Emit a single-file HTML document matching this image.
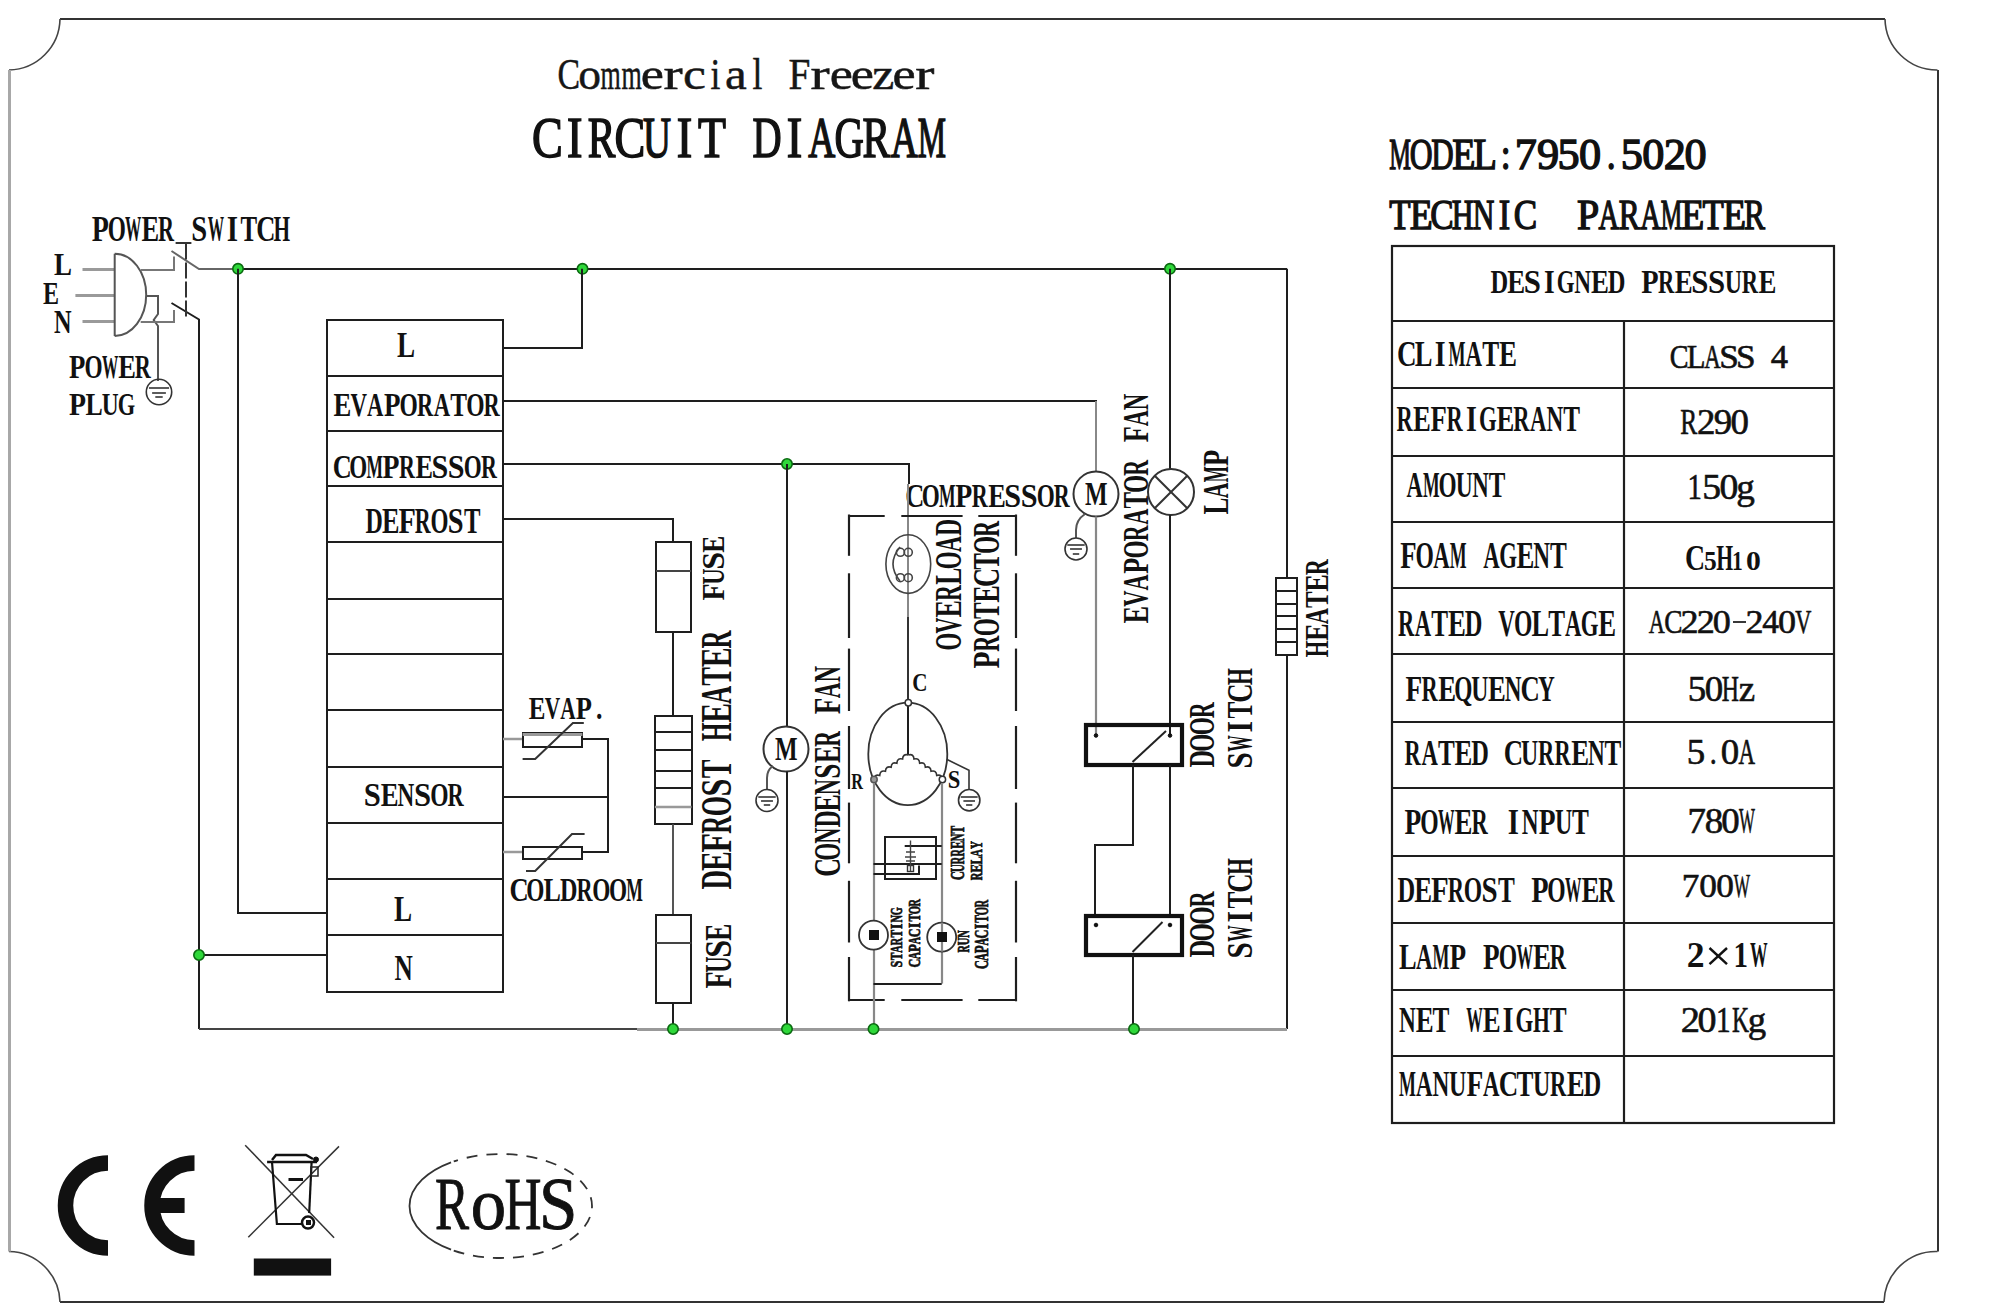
<!DOCTYPE html>
<html><head><meta charset="utf-8"><style>
html,body{margin:0;padding:0;background:#fff;}
body{width:2000px;height:1313px;overflow:hidden;}
svg{display:block;}
text{font-family:"Liberation Serif",serif;}
</style></head><body>
<svg width="2000" height="1313" viewBox="0 0 2000 1313">
<rect x="0" y="0" width="2000" height="1313" fill="#fff"/>
<line x1="60.00" y1="19.00" x2="1885.00" y2="19.00" stroke="#333" stroke-width="2.00" />
<line x1="60.00" y1="1302.00" x2="1884.00" y2="1302.00" stroke="#333" stroke-width="2.00" />
<line x1="1938.00" y1="70.00" x2="1938.00" y2="1251.50" stroke="#333" stroke-width="2.00" />
<path d="M1885,19 A52,52 0 0 0 1937.5,70 M1937.5,1251.5 A52,52 0 0 0 1884,1302 M60,1302 A52,52 0 0 0 9,1251.5 M9,70 A52,52 0 0 0 60,19" stroke="#444" stroke-width="1.60" fill="none" />
<line x1="9.50" y1="70.00" x2="9.50" y2="1251.50" stroke="#a8a8a8" stroke-width="3.00" />
<text transform="translate(557.61 89.00) scale(0.7634 1)" font-size="44.29" font-weight="normal" fill="#161616" stroke="#161616" stroke-width="0.50" >C</text>
<text transform="translate(578.24 89.00) scale(1.0281 1)" font-size="44.29" font-weight="normal" fill="#161616" stroke="#161616" stroke-width="0.50" >o</text>
<text transform="translate(600.41 89.00) scale(0.5879 1)" font-size="44.29" font-weight="normal" fill="#161616" stroke="#161616" stroke-width="0.50" >m</text>
<text transform="translate(621.38 89.00) scale(0.5879 1)" font-size="44.29" font-weight="normal" fill="#161616" stroke="#161616" stroke-width="0.50" >m</text>
<text transform="translate(640.87 89.00) scale(1.1773 1)" font-size="44.29" font-weight="normal" fill="#161616" stroke="#161616" stroke-width="0.50" >e</text>
<text transform="translate(663.62 89.00) scale(1.3000 1)" font-size="44.29" font-weight="normal" fill="#161616" stroke="#161616" stroke-width="0.50" >r</text>
<text transform="translate(682.90 89.00) scale(1.1619 1)" font-size="44.29" font-weight="normal" fill="#161616" stroke="#161616" stroke-width="0.50" >c</text>
<text transform="translate(710.53 89.00) scale(0.8000 1)" font-size="44.29" font-weight="normal" fill="#161616" stroke="#161616" stroke-width="0.50" >i</text>
<text transform="translate(725.09 89.00) scale(1.1030 1)" font-size="44.29" font-weight="normal" fill="#161616" stroke="#161616" stroke-width="0.50" >a</text>
<text transform="translate(752.51 89.00) scale(0.8000 1)" font-size="44.29" font-weight="normal" fill="#161616" stroke="#161616" stroke-width="0.50" >l</text>
<text transform="translate(788.61 89.00) scale(0.8870 1)" font-size="44.29" font-weight="normal" fill="#161616" stroke="#161616" stroke-width="0.50" >F</text>
<text transform="translate(810.45 89.00) scale(1.3000 1)" font-size="44.29" font-weight="normal" fill="#161616" stroke="#161616" stroke-width="0.50" >r</text>
<text transform="translate(829.65 89.00) scale(1.1773 1)" font-size="44.29" font-weight="normal" fill="#161616" stroke="#161616" stroke-width="0.50" >e</text>
<text transform="translate(850.63 89.00) scale(1.1773 1)" font-size="44.29" font-weight="normal" fill="#161616" stroke="#161616" stroke-width="0.50" >e</text>
<text transform="translate(872.31 89.00) scale(1.1197 1)" font-size="44.29" font-weight="normal" fill="#161616" stroke="#161616" stroke-width="0.50" >z</text>
<text transform="translate(892.58 89.00) scale(1.1773 1)" font-size="44.29" font-weight="normal" fill="#161616" stroke="#161616" stroke-width="0.50" >e</text>
<text transform="translate(915.33 89.00) scale(1.3000 1)" font-size="44.29" font-weight="normal" fill="#161616" stroke="#161616" stroke-width="0.50" >r</text>
<text transform="translate(532.10 157.00) scale(0.7962 1)" font-size="58.03" font-weight="normal" fill="#111" stroke="#111" stroke-width="1.60" >C</text>
<text transform="translate(566.91 157.00) scale(0.8000 1)" font-size="58.03" font-weight="normal" fill="#111" stroke="#111" stroke-width="1.60" >I</text>
<text transform="translate(587.75 157.00) scale(0.7138 1)" font-size="58.03" font-weight="normal" fill="#111" stroke="#111" stroke-width="1.60" >R</text>
<text transform="translate(614.52 157.00) scale(0.7962 1)" font-size="58.03" font-weight="normal" fill="#111" stroke="#111" stroke-width="1.60" >C</text>
<text transform="translate(643.08 157.00) scale(0.6682 1)" font-size="58.03" font-weight="normal" fill="#111" stroke="#111" stroke-width="1.60" >U</text>
<text transform="translate(676.80 157.00) scale(0.8000 1)" font-size="58.03" font-weight="normal" fill="#111" stroke="#111" stroke-width="1.60" >I</text>
<text transform="translate(698.01 157.00) scale(0.7888 1)" font-size="58.03" font-weight="normal" fill="#111" stroke="#111" stroke-width="1.60" >T</text>
<text transform="translate(752.62 157.00) scale(0.6956 1)" font-size="58.03" font-weight="normal" fill="#111" stroke="#111" stroke-width="1.60" >D</text>
<text transform="translate(786.69 157.00) scale(0.8000 1)" font-size="58.03" font-weight="normal" fill="#111" stroke="#111" stroke-width="1.60" >I</text>
<text transform="translate(808.37 157.00) scale(0.6446 1)" font-size="58.03" font-weight="normal" fill="#111" stroke="#111" stroke-width="1.60" >A</text>
<text transform="translate(834.54 157.00) scale(0.6993 1)" font-size="58.03" font-weight="normal" fill="#111" stroke="#111" stroke-width="1.60" >G</text>
<text transform="translate(862.49 157.00) scale(0.7138 1)" font-size="58.03" font-weight="normal" fill="#111" stroke="#111" stroke-width="1.60" >R</text>
<text transform="translate(890.79 157.00) scale(0.6446 1)" font-size="58.03" font-weight="normal" fill="#111" stroke="#111" stroke-width="1.60" >A</text>
<text transform="translate(917.71 157.00) scale(0.5468 1)" font-size="58.03" font-weight="normal" fill="#111" stroke="#111" stroke-width="1.60" >M</text>
<text transform="translate(1389.30 169.00) scale(0.5505 1)" font-size="44.29" font-weight="normal" fill="#111" stroke="#111" stroke-width="1.40" >M</text>
<text transform="translate(1409.81 169.00) scale(0.7147 1)" font-size="44.29" font-weight="normal" fill="#111" stroke="#111" stroke-width="1.40" >O</text>
<text transform="translate(1431.32 169.00) scale(0.7002 1)" font-size="44.29" font-weight="normal" fill="#111" stroke="#111" stroke-width="1.40" >D</text>
<text transform="translate(1452.22 169.00) scale(0.8596 1)" font-size="44.29" font-weight="normal" fill="#111" stroke="#111" stroke-width="1.40" >E</text>
<text transform="translate(1473.31 169.00) scale(0.8765 1)" font-size="44.29" font-weight="normal" fill="#111" stroke="#111" stroke-width="1.40" >L</text>
<text transform="translate(1500.77 169.00) scale(0.8000 1)" font-size="44.29" font-weight="normal" fill="#111" stroke="#111" stroke-width="1.40" >:</text>
<text transform="translate(1514.87 169.00) scale(1.0000 1)" font-size="44.29" font-weight="normal" fill="#111" stroke="#111" stroke-width="1.40" >7</text>
<text transform="translate(1536.99 169.00) scale(1.0000 1)" font-size="44.29" font-weight="normal" fill="#111" stroke="#111" stroke-width="1.40" >9</text>
<text transform="translate(1557.48 169.00) scale(1.0000 1)" font-size="44.29" font-weight="normal" fill="#111" stroke="#111" stroke-width="1.40" >5</text>
<text transform="translate(1579.01 169.00) scale(1.0000 1)" font-size="44.29" font-weight="normal" fill="#111" stroke="#111" stroke-width="1.40" >0</text>
<text transform="translate(1606.76 169.00) scale(0.8000 1)" font-size="44.29" font-weight="normal" fill="#111" stroke="#111" stroke-width="1.40" >.</text>
<text transform="translate(1620.80 169.00) scale(1.0000 1)" font-size="44.29" font-weight="normal" fill="#111" stroke="#111" stroke-width="1.40" >5</text>
<text transform="translate(1642.33 169.00) scale(1.0000 1)" font-size="44.29" font-weight="normal" fill="#111" stroke="#111" stroke-width="1.40" >0</text>
<text transform="translate(1663.68 169.00) scale(1.0000 1)" font-size="44.29" font-weight="normal" fill="#111" stroke="#111" stroke-width="1.40" >2</text>
<text transform="translate(1684.54 169.00) scale(1.0000 1)" font-size="44.29" font-weight="normal" fill="#111" stroke="#111" stroke-width="1.40" >0</text>
<text transform="translate(1389.37 229.00) scale(0.8136 1)" font-size="42.76" font-weight="normal" fill="#111" stroke="#111" stroke-width="1.40" >T</text>
<text transform="translate(1409.79 229.00) scale(0.8807 1)" font-size="42.76" font-weight="normal" fill="#111" stroke="#111" stroke-width="1.40" >E</text>
<text transform="translate(1430.32 229.00) scale(0.8212 1)" font-size="42.76" font-weight="normal" fill="#111" stroke="#111" stroke-width="1.40" >C</text>
<text transform="translate(1451.77 229.00) scale(0.7059 1)" font-size="42.76" font-weight="normal" fill="#111" stroke="#111" stroke-width="1.40" >H</text>
<text transform="translate(1472.66 229.00) scale(0.6992 1)" font-size="42.76" font-weight="normal" fill="#111" stroke="#111" stroke-width="1.40" >N</text>
<text transform="translate(1498.71 229.00) scale(0.8000 1)" font-size="42.76" font-weight="normal" fill="#111" stroke="#111" stroke-width="1.40" >I</text>
<text transform="translate(1513.84 229.00) scale(0.8212 1)" font-size="42.76" font-weight="normal" fill="#111" stroke="#111" stroke-width="1.40" >C</text>
<text transform="translate(1577.04 229.00) scale(0.9356 1)" font-size="42.76" font-weight="normal" fill="#111" stroke="#111" stroke-width="1.40" >P</text>
<text transform="translate(1598.52 229.00) scale(0.6648 1)" font-size="42.76" font-weight="normal" fill="#111" stroke="#111" stroke-width="1.40" >A</text>
<text transform="translate(1618.77 229.00) scale(0.7362 1)" font-size="42.76" font-weight="normal" fill="#111" stroke="#111" stroke-width="1.40" >R</text>
<text transform="translate(1640.28 229.00) scale(0.6648 1)" font-size="42.76" font-weight="normal" fill="#111" stroke="#111" stroke-width="1.40" >A</text>
<text transform="translate(1660.74 229.00) scale(0.5640 1)" font-size="42.76" font-weight="normal" fill="#111" stroke="#111" stroke-width="1.40" >M</text>
<text transform="translate(1681.23 229.00) scale(0.8807 1)" font-size="42.76" font-weight="normal" fill="#111" stroke="#111" stroke-width="1.40" >E</text>
<text transform="translate(1702.57 229.00) scale(0.8136 1)" font-size="42.76" font-weight="normal" fill="#111" stroke="#111" stroke-width="1.40" >T</text>
<text transform="translate(1722.99 229.00) scale(0.8807 1)" font-size="42.76" font-weight="normal" fill="#111" stroke="#111" stroke-width="1.40" >E</text>
<text transform="translate(1744.05 229.00) scale(0.7362 1)" font-size="42.76" font-weight="normal" fill="#111" stroke="#111" stroke-width="1.40" >R</text>
<text transform="translate(91.82 241.10) scale(0.7746 1)" font-size="36.20" font-weight="bold" fill="#111" >P</text>
<text transform="translate(107.68 241.10) scale(0.6439 1)" font-size="36.20" font-weight="bold" fill="#111" >O</text>
<text transform="translate(125.10 241.10) scale(0.4514 1)" font-size="36.20" font-weight="bold" fill="#111" >W</text>
<text transform="translate(141.39 241.10) scale(0.7316 1)" font-size="36.20" font-weight="bold" fill="#111" >E</text>
<text transform="translate(157.97 241.10) scale(0.6135 1)" font-size="36.20" font-weight="bold" fill="#111" >R</text>
<text transform="translate(191.18 241.10) scale(0.7917 1)" font-size="36.20" font-weight="bold" fill="#111" >S</text>
<text transform="translate(207.66 241.10) scale(0.4514 1)" font-size="36.20" font-weight="bold" fill="#111" >W</text>
<text transform="translate(226.70 241.10) scale(0.8000 1)" font-size="36.20" font-weight="bold" fill="#111" >I</text>
<text transform="translate(240.53 241.10) scale(0.6884 1)" font-size="36.20" font-weight="bold" fill="#111" >T</text>
<text transform="translate(256.14 241.10) scale(0.7334 1)" font-size="36.20" font-weight="bold" fill="#111" >C</text>
<text transform="translate(273.58 241.10) scale(0.5886 1)" font-size="36.20" font-weight="bold" fill="#111" >H</text>
<text transform="translate(53.94 275.00) scale(0.8293 1)" font-size="32.53" font-weight="bold" fill="#111" >L</text>
<text transform="translate(42.99 303.70) scale(0.7609 1)" font-size="31.61" font-weight="bold" fill="#111" >E</text>
<text transform="translate(53.94 332.50) scale(0.7247 1)" font-size="33.60" font-weight="bold" fill="#111" >N</text>
<text transform="translate(69.04 377.70) scale(0.8008 1)" font-size="33.45" font-weight="bold" fill="#111" >P</text>
<text transform="translate(84.52 377.70) scale(0.6964 1)" font-size="33.45" font-weight="bold" fill="#111" >O</text>
<text transform="translate(101.92 377.70) scale(0.4882 1)" font-size="33.45" font-weight="bold" fill="#111" >W</text>
<text transform="translate(118.20 377.70) scale(0.7912 1)" font-size="33.45" font-weight="bold" fill="#111" >E</text>
<text transform="translate(134.78 377.70) scale(0.6635 1)" font-size="33.45" font-weight="bold" fill="#111" >R</text>
<text transform="translate(69.02 415.00) scale(0.8689 1)" font-size="32.07" font-weight="bold" fill="#111" >P</text>
<text transform="translate(85.47 415.00) scale(0.8082 1)" font-size="32.07" font-weight="bold" fill="#111" >L</text>
<text transform="translate(101.74 415.00) scale(0.7307 1)" font-size="32.07" font-weight="bold" fill="#111" >U</text>
<text transform="translate(117.65 415.00) scale(0.7002 1)" font-size="32.07" font-weight="bold" fill="#111" >G</text>
<line x1="82.50" y1="269.50" x2="114.70" y2="269.50" stroke="#9a9a9a" stroke-width="3.00" />
<line x1="75.40" y1="295.50" x2="114.70" y2="295.50" stroke="#9a9a9a" stroke-width="3.00" />
<line x1="82.50" y1="321.50" x2="114.70" y2="321.50" stroke="#9a9a9a" stroke-width="3.00" />
<path d="M114.7,253.7 L114.7,336 M114.7,253.7 A31.5,41.15 0 0 1 114.7,336" stroke="#555" stroke-width="2.00" fill="none" />
<polyline points="140.70,270.00 174.00,270.00 174.00,256.40" stroke="#777" stroke-width="2.00" fill="none" stroke-linejoin="miter" />
<polyline points="146.00,296.00 158.00,296.00 158.00,314.00 153.70,320.00 158.00,326.00 158.00,381.00" stroke="#555" stroke-width="2.00" fill="none" stroke-linejoin="miter" />
<polyline points="140.70,322.00 174.00,322.00 174.00,310.00" stroke="#777" stroke-width="2.00" fill="none" stroke-linejoin="miter" />
<polyline points="171.50,251.00 199.00,269.00 238.00,269.00" stroke="#666" stroke-width="2.00" fill="none" stroke-linejoin="miter" />
<polyline points="171.50,303.00 199.00,319.50 199.00,1029.00" stroke="#1e1e1e" stroke-width="2.00" fill="none" stroke-linejoin="miter" />
<line x1="186.00" y1="243.40" x2="186.00" y2="319.50" stroke="#333" stroke-width="2.00" stroke-dasharray="16 3"/>
<line x1="175.60" y1="243.00" x2="191.40" y2="243.00" stroke="#333" stroke-width="2.00" />
<circle cx="159.00" cy="392.00" r="12.70" stroke="#333" stroke-width="1.60" fill="none"/>
<line x1="148.95" y1="388.00" x2="169.05" y2="388.00" stroke="#333" stroke-width="1.60" />
<line x1="152.12" y1="393.00" x2="165.88" y2="393.00" stroke="#333" stroke-width="1.60" />
<line x1="155.30" y1="397.00" x2="162.70" y2="397.00" stroke="#333" stroke-width="1.60" />
<line x1="238.00" y1="269.00" x2="1287.00" y2="269.00" stroke="#1e1e1e" stroke-width="2.20" />
<line x1="1287.00" y1="268.80" x2="1287.00" y2="578.00" stroke="#1e1e1e" stroke-width="2.00" />
<circle cx="238.00" cy="268.80" r="5.20" fill="#2fd83a" stroke="#0a6a10" stroke-width="1.6"/>
<circle cx="582.50" cy="268.80" r="5.20" fill="#2fd83a" stroke="#0a6a10" stroke-width="1.6"/>
<circle cx="1170.00" cy="268.80" r="5.20" fill="#2fd83a" stroke="#0a6a10" stroke-width="1.6"/>
<polyline points="238.00,268.80 238.00,913.00 327.00,913.00" stroke="#1e1e1e" stroke-width="2.00" fill="none" stroke-linejoin="miter" />
<line x1="199.00" y1="955.00" x2="327.00" y2="955.00" stroke="#1e1e1e" stroke-width="2.00" />
<circle cx="199.00" cy="955.00" r="5.20" fill="#2fd83a" stroke="#0a6a10" stroke-width="1.6"/>
<rect x="327.00" y="320.00" width="176.00" height="672.00" stroke="#1e1e1e" stroke-width="2.00" fill="none"/>
<line x1="327.00" y1="376.00" x2="503.00" y2="376.00" stroke="#1e1e1e" stroke-width="2.00" />
<line x1="327.00" y1="431.00" x2="503.00" y2="431.00" stroke="#1e1e1e" stroke-width="2.00" />
<line x1="327.00" y1="486.00" x2="503.00" y2="486.00" stroke="#1e1e1e" stroke-width="2.00" />
<line x1="327.00" y1="542.00" x2="503.00" y2="542.00" stroke="#1e1e1e" stroke-width="2.00" />
<line x1="327.00" y1="599.00" x2="503.00" y2="599.00" stroke="#1e1e1e" stroke-width="2.00" />
<line x1="327.00" y1="654.00" x2="503.00" y2="654.00" stroke="#1e1e1e" stroke-width="2.00" />
<line x1="327.00" y1="710.00" x2="503.00" y2="710.00" stroke="#1e1e1e" stroke-width="2.00" />
<line x1="327.00" y1="767.00" x2="503.00" y2="767.00" stroke="#1e1e1e" stroke-width="2.00" />
<line x1="327.00" y1="823.00" x2="503.00" y2="823.00" stroke="#1e1e1e" stroke-width="2.00" />
<line x1="327.00" y1="879.00" x2="503.00" y2="879.00" stroke="#1e1e1e" stroke-width="2.00" />
<line x1="327.00" y1="935.00" x2="503.00" y2="935.00" stroke="#1e1e1e" stroke-width="2.00" />
<text transform="translate(397.04 357.00) scale(0.7405 1)" font-size="36.65" font-weight="bold" fill="#111" >L</text>
<text transform="translate(333.54 416.00) scale(0.7955 1)" font-size="33.60" font-weight="bold" fill="#111" >E</text>
<text transform="translate(350.41 416.00) scale(0.6806 1)" font-size="33.60" font-weight="bold" fill="#111" >V</text>
<text transform="translate(367.11 416.00) scale(0.6754 1)" font-size="33.60" font-weight="bold" fill="#111" >A</text>
<text transform="translate(383.89 416.00) scale(0.8051 1)" font-size="33.60" font-weight="bold" fill="#111" >P</text>
<text transform="translate(399.52 416.00) scale(0.7001 1)" font-size="33.60" font-weight="bold" fill="#111" >O</text>
<text transform="translate(416.95 416.00) scale(0.6671 1)" font-size="33.60" font-weight="bold" fill="#111" >R</text>
<text transform="translate(433.78 416.00) scale(0.6754 1)" font-size="33.60" font-weight="bold" fill="#111" >A</text>
<text transform="translate(450.27 416.00) scale(0.7485 1)" font-size="33.60" font-weight="bold" fill="#111" >T</text>
<text transform="translate(466.18 416.00) scale(0.7001 1)" font-size="33.60" font-weight="bold" fill="#111" >O</text>
<text transform="translate(483.62 416.00) scale(0.6671 1)" font-size="33.60" font-weight="bold" fill="#111" >R</text>
<text transform="translate(332.72 478.00) scale(0.7656 1)" font-size="34.36" font-weight="bold" fill="#111" >C</text>
<text transform="translate(349.24 478.00) scale(0.6722 1)" font-size="34.36" font-weight="bold" fill="#111" >O</text>
<text transform="translate(366.43 478.00) scale(0.5092 1)" font-size="34.36" font-weight="bold" fill="#111" >M</text>
<text transform="translate(382.62 478.00) scale(0.8086 1)" font-size="34.36" font-weight="bold" fill="#111" >P</text>
<text transform="translate(399.09 478.00) scale(0.6405 1)" font-size="34.36" font-weight="bold" fill="#111" >R</text>
<text transform="translate(415.38 478.00) scale(0.7638 1)" font-size="34.36" font-weight="bold" fill="#111" >E</text>
<text transform="translate(431.49 478.00) scale(0.8783 1)" font-size="34.36" font-weight="bold" fill="#111" >S</text>
<text transform="translate(447.86 478.00) scale(0.8783 1)" font-size="34.36" font-weight="bold" fill="#111" >S</text>
<text transform="translate(463.80 478.00) scale(0.6722 1)" font-size="34.36" font-weight="bold" fill="#111" >O</text>
<text transform="translate(480.91 478.00) scale(0.6405 1)" font-size="34.36" font-weight="bold" fill="#111" >R</text>
<text transform="translate(365.58 533.00) scale(0.6826 1)" font-size="35.13" font-weight="bold" fill="#111" >D</text>
<text transform="translate(381.93 533.00) scale(0.7478 1)" font-size="35.13" font-weight="bold" fill="#111" >E</text>
<text transform="translate(398.38 533.00) scale(0.8091 1)" font-size="35.13" font-weight="bold" fill="#111" >F</text>
<text transform="translate(414.76 533.00) scale(0.6271 1)" font-size="35.13" font-weight="bold" fill="#111" >R</text>
<text transform="translate(430.39 533.00) scale(0.6581 1)" font-size="35.13" font-weight="bold" fill="#111" >O</text>
<text transform="translate(447.70 533.00) scale(0.8091 1)" font-size="35.13" font-weight="bold" fill="#111" >S</text>
<text transform="translate(463.89 533.00) scale(0.7036 1)" font-size="35.13" font-weight="bold" fill="#111" >T</text>
<text transform="translate(363.86 805.50) scale(0.9157 1)" font-size="33.60" font-weight="bold" fill="#111" >S</text>
<text transform="translate(380.80 805.50) scale(0.7962 1)" font-size="33.60" font-weight="bold" fill="#111" >E</text>
<text transform="translate(397.50 805.50) scale(0.6908 1)" font-size="33.60" font-weight="bold" fill="#111" >N</text>
<text transform="translate(413.91 805.50) scale(0.9157 1)" font-size="33.60" font-weight="bold" fill="#111" >S</text>
<text transform="translate(430.15 805.50) scale(0.7008 1)" font-size="33.60" font-weight="bold" fill="#111" >O</text>
<text transform="translate(447.60 805.50) scale(0.6677 1)" font-size="33.60" font-weight="bold" fill="#111" >R</text>
<text transform="translate(394.04 921.00) scale(0.7405 1)" font-size="36.65" font-weight="bold" fill="#111" >L</text>
<text transform="translate(394.52 980.00) scale(0.6920 1)" font-size="36.65" font-weight="bold" fill="#111" >N</text>
<polyline points="503.00,348.00 582.00,348.00 582.00,268.80" stroke="#1e1e1e" stroke-width="2.00" fill="none" stroke-linejoin="miter" />
<polyline points="503.00,401.00 1096.00,401.00 1096.00,471.00" stroke="#1e1e1e" stroke-width="2.00" fill="none" stroke-linejoin="miter" />
<polyline points="503.00,464.00 909.00,464.00 909.00,484.00" stroke="#1e1e1e" stroke-width="2.00" fill="none" stroke-linejoin="miter" />
<circle cx="787.00" cy="464.00" r="5.20" fill="#2fd83a" stroke="#0a6a10" stroke-width="1.6"/>
<polyline points="503.00,519.00 673.00,519.00 673.00,542.50" stroke="#1e1e1e" stroke-width="2.00" fill="none" stroke-linejoin="miter" />
<text transform="translate(528.87 718.50) scale(0.7804 1)" font-size="32.07" font-weight="bold" fill="#111" >E</text>
<text transform="translate(544.67 718.50) scale(0.6677 1)" font-size="32.07" font-weight="bold" fill="#111" >V</text>
<text transform="translate(560.31 718.50) scale(0.6626 1)" font-size="32.07" font-weight="bold" fill="#111" >A</text>
<text transform="translate(575.67 718.50) scale(0.8262 1)" font-size="32.07" font-weight="bold" fill="#111" >P</text>
<text transform="translate(596.01 718.50) scale(0.8000 1)" font-size="32.07" font-weight="bold" fill="#111" >.</text>
<text transform="translate(509.60 901.00) scale(0.8014 1)" font-size="33.14" font-weight="bold" fill="#111" >C</text>
<text transform="translate(526.28 901.00) scale(0.7036 1)" font-size="33.14" font-weight="bold" fill="#111" >O</text>
<text transform="translate(543.49 901.00) scale(0.7872 1)" font-size="33.14" font-weight="bold" fill="#111" >L</text>
<text transform="translate(560.04 901.00) scale(0.7298 1)" font-size="33.14" font-weight="bold" fill="#111" >D</text>
<text transform="translate(576.60 901.00) scale(0.6704 1)" font-size="33.14" font-weight="bold" fill="#111" >R</text>
<text transform="translate(592.36 901.00) scale(0.7036 1)" font-size="33.14" font-weight="bold" fill="#111" >O</text>
<text transform="translate(608.88 901.00) scale(0.7036 1)" font-size="33.14" font-weight="bold" fill="#111" >O</text>
<text transform="translate(626.24 901.00) scale(0.5329 1)" font-size="33.14" font-weight="bold" fill="#111" >M</text>
<line x1="503.00" y1="739.00" x2="522.60" y2="739.00" stroke="#999" stroke-width="2.50" />
<rect x="523.00" y="733.00" width="59.00" height="14.00" stroke="#1e1e1e" stroke-width="2.00" fill="none"/>
<line x1="522.60" y1="734.50" x2="582.40" y2="734.50" stroke="#999" stroke-width="3.00" />
<polyline points="582.40,739.00 608.00,739.00 608.00,852.00 582.40,852.00" stroke="#1e1e1e" stroke-width="2.00" fill="none" stroke-linejoin="miter" />
<polyline points="522.60,759.00 535.20,759.00 572.90,723.00 583.80,723.00" stroke="#333" stroke-width="2.00" fill="none" stroke-linejoin="miter" />
<line x1="503.00" y1="797.00" x2="608.00" y2="797.00" stroke="#1e1e1e" stroke-width="2.00" />
<line x1="503.00" y1="852.00" x2="522.60" y2="852.00" stroke="#999" stroke-width="2.50" />
<rect x="523.00" y="847.00" width="59.00" height="12.00" stroke="#1e1e1e" stroke-width="2.00" fill="none"/>
<polyline points="526.00,871.00 535.20,871.00 572.00,834.00 584.60,834.00" stroke="#333" stroke-width="2.00" fill="none" stroke-linejoin="miter" />
<rect x="656.00" y="542.00" width="35.00" height="90.00" stroke="#1e1e1e" stroke-width="2.00" fill="none"/>
<line x1="656.00" y1="571.00" x2="691.00" y2="571.00" stroke="#444" stroke-width="2.00" />
<line x1="673.00" y1="632.00" x2="673.00" y2="716.00" stroke="#1e1e1e" stroke-width="2.00" />
<rect x="655.00" y="716.00" width="37.00" height="108.00" stroke="#1e1e1e" stroke-width="2.00" fill="none"/>
<line x1="654.90" y1="732.00" x2="691.50" y2="732.00" stroke="#1e1e1e" stroke-width="2.00" />
<line x1="654.90" y1="750.00" x2="691.50" y2="750.00" stroke="#1e1e1e" stroke-width="2.00" />
<line x1="654.90" y1="771.00" x2="691.50" y2="771.00" stroke="#1e1e1e" stroke-width="2.00" />
<line x1="654.90" y1="788.00" x2="691.50" y2="788.00" stroke="#1e1e1e" stroke-width="2.00" />
<line x1="654.90" y1="807.00" x2="691.50" y2="807.00" stroke="#999" stroke-width="2.50" />
<line x1="673.00" y1="824.30" x2="673.00" y2="914.70" stroke="#555" stroke-width="2.00" />
<rect x="656.00" y="915.00" width="35.00" height="88.00" stroke="#1e1e1e" stroke-width="2.00" fill="none"/>
<line x1="656.00" y1="943.00" x2="691.30" y2="943.00" stroke="#444" stroke-width="2.00" />
<line x1="673.00" y1="1003.30" x2="673.00" y2="1029.00" stroke="#1e1e1e" stroke-width="2.00" />
<g transform="translate(723.70 600.00) rotate(-90)">
<text transform="translate(-0.48 0) scale(0.8765 1)" font-size="31.92" font-weight="bold" fill="#111">F</text>
<text transform="translate(15.34 0) scale(0.7116 1)" font-size="31.92" font-weight="bold" fill="#111">U</text>
<text transform="translate(30.33 0) scale(1.0080 1)" font-size="31.92" font-weight="bold" fill="#111">S</text>
<text transform="translate(47.29 0) scale(0.7993 1)" font-size="31.92" font-weight="bold" fill="#111">E</text>
</g>
<g transform="translate(731.30 889.00) rotate(-90)">
<text transform="translate(-0.48 0) scale(0.6230 1)" font-size="43.53" font-weight="bold" fill="#111">D</text>
<text transform="translate(18.02 0) scale(0.6825 1)" font-size="43.53" font-weight="bold" fill="#111">E</text>
<text transform="translate(36.62 0) scale(0.7385 1)" font-size="43.53" font-weight="bold" fill="#111">F</text>
<text transform="translate(55.15 0) scale(0.5723 1)" font-size="43.53" font-weight="bold" fill="#111">R</text>
<text transform="translate(72.82 0) scale(0.6007 1)" font-size="43.53" font-weight="bold" fill="#111">O</text>
<text transform="translate(92.40 0) scale(0.7385 1)" font-size="43.53" font-weight="bold" fill="#111">S</text>
<text transform="translate(110.71 0) scale(0.6422 1)" font-size="43.53" font-weight="bold" fill="#111">T</text>
<text transform="translate(147.79 0) scale(0.5491 1)" font-size="43.53" font-weight="bold" fill="#111">H</text>
<text transform="translate(166.21 0) scale(0.6825 1)" font-size="43.53" font-weight="bold" fill="#111">E</text>
<text transform="translate(185.00 0) scale(0.5795 1)" font-size="43.53" font-weight="bold" fill="#111">A</text>
<text transform="translate(203.33 0) scale(0.6422 1)" font-size="43.53" font-weight="bold" fill="#111">T</text>
<text transform="translate(221.78 0) scale(0.6825 1)" font-size="43.53" font-weight="bold" fill="#111">E</text>
<text transform="translate(240.39 0) scale(0.5723 1)" font-size="43.53" font-weight="bold" fill="#111">R</text>
</g>
<g transform="translate(731.30 988.00) rotate(-90)">
<text transform="translate(-0.48 0) scale(0.7417 1)" font-size="37.72" font-weight="bold" fill="#111">F</text>
<text transform="translate(15.34 0) scale(0.6022 1)" font-size="37.72" font-weight="bold" fill="#111">U</text>
<text transform="translate(30.33 0) scale(0.8529 1)" font-size="37.72" font-weight="bold" fill="#111">S</text>
<text transform="translate(47.29 0) scale(0.6763 1)" font-size="37.72" font-weight="bold" fill="#111">E</text>
</g>
<line x1="787.00" y1="464.00" x2="787.00" y2="726.50" stroke="#1e1e1e" stroke-width="2.00" />
<circle cx="786.00" cy="749.00" r="22.50" stroke="#333" stroke-width="2.00" fill="none"/>
<text transform="translate(775.09 760.00) scale(0.7126 1)" font-size="33.60" font-weight="bold" fill="#111" >M</text>
<line x1="787.00" y1="771.50" x2="787.00" y2="1029.00" stroke="#1e1e1e" stroke-width="2.00" />
<path d="M773,766 Q767,770 767,778 L767,789" stroke="#555" stroke-width="2.00" fill="none" />
<circle cx="767.00" cy="800.50" r="11.00" stroke="#333" stroke-width="1.60" fill="none"/>
<line x1="758.29" y1="797.00" x2="775.71" y2="797.00" stroke="#333" stroke-width="1.60" />
<line x1="761.04" y1="801.00" x2="772.96" y2="801.00" stroke="#333" stroke-width="1.60" />
<line x1="763.79" y1="805.00" x2="770.21" y2="805.00" stroke="#333" stroke-width="1.60" />
<g transform="translate(839.60 875.50) rotate(-90)">
<text transform="translate(-1.27 0) scale(0.6904 1)" font-size="37.57" font-weight="bold" fill="#111">C</text>
<text transform="translate(15.02 0) scale(0.6061 1)" font-size="37.57" font-weight="bold" fill="#111">O</text>
<text transform="translate(31.84 0) scale(0.5975 1)" font-size="37.57" font-weight="bold" fill="#111">N</text>
<text transform="translate(47.99 0) scale(0.6287 1)" font-size="37.57" font-weight="bold" fill="#111">D</text>
<text transform="translate(64.09 0) scale(0.6887 1)" font-size="37.57" font-weight="bold" fill="#111">E</text>
<text transform="translate(80.24 0) scale(0.5975 1)" font-size="37.57" font-weight="bold" fill="#111">N</text>
<text transform="translate(96.85 0) scale(0.7230 1)" font-size="37.57" font-weight="bold" fill="#111">S</text>
<text transform="translate(112.50 0) scale(0.6887 1)" font-size="37.57" font-weight="bold" fill="#111">E</text>
<text transform="translate(128.70 0) scale(0.5775 1)" font-size="37.57" font-weight="bold" fill="#111">R</text>
<text transform="translate(161.21 0) scale(0.7230 1)" font-size="37.57" font-weight="bold" fill="#111">F</text>
<text transform="translate(177.26 0) scale(0.5847 1)" font-size="37.57" font-weight="bold" fill="#111">A</text>
<text transform="translate(193.18 0) scale(0.5975 1)" font-size="37.57" font-weight="bold" fill="#111">N</text>
</g>
<text transform="translate(905.21 506.80) scale(0.7890 1)" font-size="33.45" font-weight="bold" fill="#111" >C</text>
<text transform="translate(921.78 506.80) scale(0.6927 1)" font-size="33.45" font-weight="bold" fill="#111" >O</text>
<text transform="translate(939.03 506.80) scale(0.5247 1)" font-size="33.45" font-weight="bold" fill="#111" >M</text>
<text transform="translate(955.27 506.80) scale(0.8333 1)" font-size="33.45" font-weight="bold" fill="#111" >P</text>
<text transform="translate(971.79 506.80) scale(0.6600 1)" font-size="33.45" font-weight="bold" fill="#111" >R</text>
<text transform="translate(988.13 506.80) scale(0.7871 1)" font-size="33.45" font-weight="bold" fill="#111" >E</text>
<text transform="translate(1004.29 506.80) scale(0.9052 1)" font-size="33.45" font-weight="bold" fill="#111" >S</text>
<text transform="translate(1020.71 506.80) scale(0.9052 1)" font-size="33.45" font-weight="bold" fill="#111" >S</text>
<text transform="translate(1036.69 506.80) scale(0.6927 1)" font-size="33.45" font-weight="bold" fill="#111" >O</text>
<text transform="translate(1053.86 506.80) scale(0.6600 1)" font-size="33.45" font-weight="bold" fill="#111" >R</text>
<line x1="908.00" y1="484.00" x2="908.00" y2="617.00" stroke="#888" stroke-width="2.00" />
<line x1="908.00" y1="617.00" x2="908.00" y2="700.00" stroke="#333" stroke-width="2.00" />
<ellipse cx="908.30" cy="564.10" rx="22.40" ry="29.30" stroke="#444" stroke-width="1.60" fill="none" />
<circle cx="900.40" cy="552.30" r="4.00" stroke="#444" stroke-width="1.60" fill="none"/>
<circle cx="908.30" cy="552.30" r="4.00" stroke="#444" stroke-width="1.60" fill="none"/>
<circle cx="900.40" cy="577.70" r="4.00" stroke="#444" stroke-width="1.60" fill="none"/>
<circle cx="908.30" cy="577.70" r="4.00" stroke="#444" stroke-width="1.60" fill="none"/>
<path d="M900,547 Q886,564 900,581" stroke="#444" stroke-width="1.60" fill="none" />
<g transform="translate(960.80 649.50) rotate(-90)">
<text transform="translate(-1.12 0) scale(0.6142 1)" font-size="37.42" font-weight="bold" fill="#111">O</text>
<text transform="translate(16.03 0) scale(0.5970 1)" font-size="37.42" font-weight="bold" fill="#111">V</text>
<text transform="translate(32.12 0) scale(0.6978 1)" font-size="37.42" font-weight="bold" fill="#111">E</text>
<text transform="translate(48.47 0) scale(0.5852 1)" font-size="37.42" font-weight="bold" fill="#111">R</text>
<text transform="translate(64.69 0) scale(0.6872 1)" font-size="37.42" font-weight="bold" fill="#111">L</text>
<text transform="translate(80.28 0) scale(0.6142 1)" font-size="37.42" font-weight="bold" fill="#111">O</text>
<text transform="translate(97.47 0) scale(0.5925 1)" font-size="37.42" font-weight="bold" fill="#111">A</text>
<text transform="translate(113.55 0) scale(0.6370 1)" font-size="37.42" font-weight="bold" fill="#111">D</text>
</g>
<g transform="translate(999.30 667.90) rotate(-90)">
<text transform="translate(-0.48 0) scale(0.7450 1)" font-size="37.42" font-weight="bold" fill="#111">P</text>
<text transform="translate(16.04 0) scale(0.5901 1)" font-size="37.42" font-weight="bold" fill="#111">R</text>
<text transform="translate(31.70 0) scale(0.6193 1)" font-size="37.42" font-weight="bold" fill="#111">O</text>
<text transform="translate(48.87 0) scale(0.6621 1)" font-size="37.42" font-weight="bold" fill="#111">T</text>
<text transform="translate(65.22 0) scale(0.7036 1)" font-size="37.42" font-weight="bold" fill="#111">E</text>
<text transform="translate(80.80 0) scale(0.7054 1)" font-size="37.42" font-weight="bold" fill="#111">C</text>
<text transform="translate(98.12 0) scale(0.6621 1)" font-size="37.42" font-weight="bold" fill="#111">T</text>
<text transform="translate(113.79 0) scale(0.6193 1)" font-size="37.42" font-weight="bold" fill="#111">O</text>
<text transform="translate(130.96 0) scale(0.5901 1)" font-size="37.42" font-weight="bold" fill="#111">R</text>
</g>
<text transform="translate(912.17 690.60) scale(0.8635 1)" font-size="24.44" font-weight="bold" fill="#111" >C</text>
<line x1="848.60" y1="516.00" x2="884.70" y2="516.00" stroke="#1e1e1e" stroke-width="2.20" />
<line x1="848.60" y1="1000.00" x2="884.70" y2="1000.00" stroke="#1e1e1e" stroke-width="2.20" />
<line x1="901.30" y1="516.00" x2="962.60" y2="516.00" stroke="#1e1e1e" stroke-width="2.20" />
<line x1="901.30" y1="1000.00" x2="962.60" y2="1000.00" stroke="#1e1e1e" stroke-width="2.20" />
<line x1="978.30" y1="516.00" x2="1016.80" y2="516.00" stroke="#1e1e1e" stroke-width="2.20" />
<line x1="978.30" y1="1000.00" x2="1016.80" y2="1000.00" stroke="#1e1e1e" stroke-width="2.20" />
<line x1="849.00" y1="514.50" x2="849.00" y2="555.80" stroke="#1e1e1e" stroke-width="2.20" />
<line x1="1016.00" y1="514.50" x2="1016.00" y2="555.80" stroke="#1e1e1e" stroke-width="2.20" />
<line x1="849.00" y1="573.30" x2="849.00" y2="638.00" stroke="#1e1e1e" stroke-width="2.20" />
<line x1="1016.00" y1="573.30" x2="1016.00" y2="638.00" stroke="#1e1e1e" stroke-width="2.20" />
<line x1="849.00" y1="648.60" x2="849.00" y2="711.00" stroke="#1e1e1e" stroke-width="2.20" />
<line x1="1016.00" y1="648.60" x2="1016.00" y2="711.00" stroke="#1e1e1e" stroke-width="2.20" />
<line x1="849.00" y1="726.00" x2="849.00" y2="789.00" stroke="#1e1e1e" stroke-width="2.20" />
<line x1="1016.00" y1="726.00" x2="1016.00" y2="789.00" stroke="#1e1e1e" stroke-width="2.20" />
<line x1="849.00" y1="802.60" x2="849.00" y2="863.30" stroke="#1e1e1e" stroke-width="2.20" />
<line x1="1016.00" y1="802.60" x2="1016.00" y2="863.30" stroke="#1e1e1e" stroke-width="2.20" />
<line x1="849.00" y1="880.80" x2="849.00" y2="942.50" stroke="#1e1e1e" stroke-width="2.20" />
<line x1="1016.00" y1="880.80" x2="1016.00" y2="942.50" stroke="#1e1e1e" stroke-width="2.20" />
<line x1="849.00" y1="957.00" x2="849.00" y2="1001.30" stroke="#1e1e1e" stroke-width="2.20" />
<line x1="1016.00" y1="957.00" x2="1016.00" y2="1001.30" stroke="#1e1e1e" stroke-width="2.20" />
<ellipse cx="907.80" cy="753.90" rx="39.50" ry="51.20" stroke="#333" stroke-width="1.80" fill="none" />
<line x1="908.00" y1="706.00" x2="908.00" y2="755.00" stroke="#1e1e1e" stroke-width="2.00" />
<circle cx="908.30" cy="702.70" r="3.20" stroke="#333" stroke-width="1.50" fill="#fff"/>
<path d="M908.30,755.00 Q902.88,753.46 902.58,759.08 Q897.17,757.54 896.87,763.17 Q891.45,761.63 891.15,767.25 Q885.73,765.71 885.43,771.33 Q880.02,769.79 879.72,775.42 Q874.30,773.88 874.00,779.50" stroke="#333" stroke-width="1.60" fill="none" />
<path d="M908.30,755.00 Q913.71,753.47 913.98,759.08 Q919.39,757.55 919.67,763.17 Q925.08,761.64 925.35,767.25 Q930.76,765.72 931.03,771.33 Q936.44,769.80 936.72,775.42 Q942.13,773.89 942.40,779.50" stroke="#333" stroke-width="1.60" fill="none" />
<circle cx="874.00" cy="779.50" r="3.20" stroke="#555" stroke-width="1.50" fill="#999"/>
<circle cx="942.40" cy="779.50" r="3.20" stroke="#333" stroke-width="1.50" fill="#fff"/>
<text transform="translate(851.32 788.60) scale(0.7288 1)" font-size="22.30" font-weight="bold" fill="#111" >R</text>
<text transform="translate(947.80 788.00) scale(0.8963 1)" font-size="25.20" font-weight="bold" fill="#111" >S</text>
<polyline points="946.60,759.30 969.00,770.30 969.00,789.50" stroke="#333" stroke-width="1.60" fill="none" stroke-linejoin="miter" />
<circle cx="969.20" cy="800.20" r="10.70" stroke="#333" stroke-width="1.60" fill="none"/>
<line x1="960.73" y1="797.00" x2="977.67" y2="797.00" stroke="#333" stroke-width="1.60" />
<line x1="963.40" y1="801.00" x2="975.00" y2="801.00" stroke="#333" stroke-width="1.60" />
<line x1="966.08" y1="805.00" x2="972.32" y2="805.00" stroke="#333" stroke-width="1.60" />
<line x1="874.00" y1="783.00" x2="874.00" y2="1029.00" stroke="#888" stroke-width="2.20" />
<line x1="942.00" y1="783.00" x2="942.00" y2="983.60" stroke="#888" stroke-width="2.20" />
<line x1="873.50" y1="984.00" x2="941.70" y2="984.00" stroke="#1e1e1e" stroke-width="2.00" />
<rect x="885.00" y="837.00" width="51.00" height="42.00" stroke="#1e1e1e" stroke-width="2.00" fill="none"/>
<line x1="904.70" y1="846.00" x2="941.70" y2="846.00" stroke="#1e1e1e" stroke-width="2.00" />
<line x1="873.50" y1="864.00" x2="941.70" y2="864.00" stroke="#1e1e1e" stroke-width="2.00" />
<polyline points="873.50,874.00 919.00,874.00 919.00,865.60" stroke="#1e1e1e" stroke-width="2.00" fill="none" stroke-linejoin="miter" />
<rect x="907.50" y="865.50" width="6.00" height="6.00" stroke="#333" stroke-width="1.40" fill="none"/>
<line x1="910.50" y1="840.50" x2="910.50" y2="871.00" stroke="#444" stroke-width="1.40" />
<path d="M906,852 L915,852 M905,857 L916,857 M906,861 L915,861" stroke="#444" stroke-width="1.30" fill="none" />
<g transform="translate(964.00 879.30) rotate(-90)">
<text transform="translate(-0.60 0) scale(0.6718 1)" font-size="18.33" font-weight="bold" fill="#111" stroke="#111" stroke-width="0.70">C</text>
<text transform="translate(7.39 0) scale(0.5966 1)" font-size="18.33" font-weight="bold" fill="#111" stroke="#111" stroke-width="0.70">U</text>
<text transform="translate(15.14 0) scale(0.5619 1)" font-size="18.33" font-weight="bold" fill="#111" stroke="#111" stroke-width="0.70">R</text>
<text transform="translate(22.80 0) scale(0.5619 1)" font-size="18.33" font-weight="bold" fill="#111" stroke="#111" stroke-width="0.70">R</text>
<text transform="translate(30.42 0) scale(0.6701 1)" font-size="18.33" font-weight="bold" fill="#111" stroke="#111" stroke-width="0.70">E</text>
<text transform="translate(38.09 0) scale(0.5814 1)" font-size="18.33" font-weight="bold" fill="#111" stroke="#111" stroke-width="0.70">N</text>
<text transform="translate(45.77 0) scale(0.6305 1)" font-size="18.33" font-weight="bold" fill="#111" stroke="#111" stroke-width="0.70">T</text>
</g>
<g transform="translate(981.60 880.00) rotate(-90)">
<text transform="translate(-0.18 0) scale(0.6042 1)" font-size="17.41" font-weight="bold" fill="#111" stroke="#111" stroke-width="0.70">R</text>
<text transform="translate(7.61 0) scale(0.7205 1)" font-size="17.41" font-weight="bold" fill="#111" stroke="#111" stroke-width="0.70">E</text>
<text transform="translate(15.43 0) scale(0.7095 1)" font-size="17.41" font-weight="bold" fill="#111" stroke="#111" stroke-width="0.70">L</text>
<text transform="translate(23.36 0) scale(0.6118 1)" font-size="17.41" font-weight="bold" fill="#111" stroke="#111" stroke-width="0.70">A</text>
<text transform="translate(31.10 0) scale(0.6292 1)" font-size="17.41" font-weight="bold" fill="#111" stroke="#111" stroke-width="0.70">Y</text>
</g>
<circle cx="873.50" cy="935.20" r="14.50" stroke="#333" stroke-width="1.80" fill="#fff"/>
<rect x="869.50" y="930.50" width="9.00" height="9.00" stroke="#111" stroke-width="1.00" fill="#111"/>
<circle cx="941.70" cy="937.10" r="14.50" stroke="#333" stroke-width="1.80" fill="#fff"/>
<line x1="942.00" y1="922.60" x2="942.00" y2="951.60" stroke="#888" stroke-width="2.20" />
<rect x="937.50" y="932.50" width="9.00" height="9.00" stroke="#111" stroke-width="1.00" fill="#111"/>
<g transform="translate(902.40 966.80) rotate(-90)">
<text transform="translate(-0.64 0) scale(0.6944 1)" font-size="17.41" font-weight="bold" fill="#111" stroke="#111" stroke-width="0.70">S</text>
<text transform="translate(6.53 0) scale(0.6548 1)" font-size="17.41" font-weight="bold" fill="#111" stroke="#111" stroke-width="0.70">T</text>
<text transform="translate(14.17 0) scale(0.5909 1)" font-size="17.41" font-weight="bold" fill="#111" stroke="#111" stroke-width="0.70">A</text>
<text transform="translate(21.65 0) scale(0.5836 1)" font-size="17.41" font-weight="bold" fill="#111" stroke="#111" stroke-width="0.70">R</text>
<text transform="translate(29.20 0) scale(0.6548 1)" font-size="17.41" font-weight="bold" fill="#111" stroke="#111" stroke-width="0.70">T</text>
<text transform="translate(37.85 0) scale(0.8000 1)" font-size="17.41" font-weight="bold" fill="#111" stroke="#111" stroke-width="0.70">I</text>
<text transform="translate(44.29 0) scale(0.6038 1)" font-size="17.41" font-weight="bold" fill="#111" stroke="#111" stroke-width="0.70">N</text>
<text transform="translate(51.54 0) scale(0.5938 1)" font-size="17.41" font-weight="bold" fill="#111" stroke="#111" stroke-width="0.70">G</text>
</g>
<g transform="translate(920.00 966.80) rotate(-90)">
<text transform="translate(-0.59 0) scale(0.6926 1)" font-size="17.56" font-weight="bold" fill="#111" stroke="#111" stroke-width="0.70">C</text>
<text transform="translate(7.47 0) scale(0.5866 1)" font-size="17.56" font-weight="bold" fill="#111" stroke="#111" stroke-width="0.70">A</text>
<text transform="translate(14.91 0) scale(0.7315 1)" font-size="17.56" font-weight="bold" fill="#111" stroke="#111" stroke-width="0.70">P</text>
<text transform="translate(22.60 0) scale(0.5866 1)" font-size="17.56" font-weight="bold" fill="#111" stroke="#111" stroke-width="0.70">A</text>
<text transform="translate(29.67 0) scale(0.6926 1)" font-size="17.56" font-weight="bold" fill="#111" stroke="#111" stroke-width="0.70">C</text>
<text transform="translate(38.73 0) scale(0.8000 1)" font-size="17.56" font-weight="bold" fill="#111" stroke="#111" stroke-width="0.70">I</text>
<text transform="translate(45.22 0) scale(0.6501 1)" font-size="17.56" font-weight="bold" fill="#111" stroke="#111" stroke-width="0.70">T</text>
<text transform="translate(52.45 0) scale(0.6081 1)" font-size="17.56" font-weight="bold" fill="#111" stroke="#111" stroke-width="0.70">O</text>
<text transform="translate(60.36 0) scale(0.5794 1)" font-size="17.56" font-weight="bold" fill="#111" stroke="#111" stroke-width="0.70">R</text>
</g>
<g transform="translate(969.40 952.40) rotate(-90)">
<text transform="translate(-0.17 0) scale(0.5767 1)" font-size="17.41" font-weight="bold" fill="#111" stroke="#111" stroke-width="0.70">R</text>
<text transform="translate(7.20 0) scale(0.6123 1)" font-size="17.41" font-weight="bold" fill="#111" stroke="#111" stroke-width="0.70">U</text>
<text transform="translate(14.73 0) scale(0.5967 1)" font-size="17.41" font-weight="bold" fill="#111" stroke="#111" stroke-width="0.70">N</text>
</g>
<g transform="translate(987.70 968.40) rotate(-90)">
<text transform="translate(-0.60 0) scale(0.6606 1)" font-size="18.63" font-weight="bold" fill="#111" stroke="#111" stroke-width="0.70">C</text>
<text transform="translate(7.55 0) scale(0.5595 1)" font-size="18.63" font-weight="bold" fill="#111" stroke="#111" stroke-width="0.70">A</text>
<text transform="translate(15.09 0) scale(0.6977 1)" font-size="18.63" font-weight="bold" fill="#111" stroke="#111" stroke-width="0.70">P</text>
<text transform="translate(22.87 0) scale(0.5595 1)" font-size="18.63" font-weight="bold" fill="#111" stroke="#111" stroke-width="0.70">A</text>
<text transform="translate(30.02 0) scale(0.6606 1)" font-size="18.63" font-weight="bold" fill="#111" stroke="#111" stroke-width="0.70">C</text>
<text transform="translate(39.06 0) scale(0.8000 1)" font-size="18.63" font-weight="bold" fill="#111" stroke="#111" stroke-width="0.70">I</text>
<text transform="translate(45.76 0) scale(0.6200 1)" font-size="18.63" font-weight="bold" fill="#111" stroke="#111" stroke-width="0.70">T</text>
<text transform="translate(53.07 0) scale(0.5800 1)" font-size="18.63" font-weight="bold" fill="#111" stroke="#111" stroke-width="0.70">O</text>
<text transform="translate(61.07 0) scale(0.5526 1)" font-size="18.63" font-weight="bold" fill="#111" stroke="#111" stroke-width="0.70">R</text>
</g>
<line x1="1096.00" y1="401.00" x2="1096.00" y2="471.50" stroke="#888" stroke-width="2.00" />
<circle cx="1096.00" cy="494.00" r="22.50" stroke="#333" stroke-width="2.00" fill="none"/>
<text transform="translate(1085.09 505.00) scale(0.7126 1)" font-size="33.60" font-weight="bold" fill="#111" >M</text>
<line x1="1096.00" y1="516.50" x2="1096.00" y2="735.00" stroke="#888" stroke-width="2.20" />
<path d="M1085,514 Q1076,520 1076,530 L1076,538" stroke="#555" stroke-width="2.00" fill="none" />
<circle cx="1076.00" cy="549.00" r="11.00" stroke="#333" stroke-width="1.60" fill="none"/>
<line x1="1067.29" y1="545.00" x2="1084.71" y2="545.00" stroke="#333" stroke-width="1.60" />
<line x1="1070.04" y1="549.00" x2="1081.96" y2="549.00" stroke="#333" stroke-width="1.60" />
<line x1="1072.79" y1="554.00" x2="1079.21" y2="554.00" stroke="#333" stroke-width="1.60" />
<g transform="translate(1147.50 623.00) rotate(-90)">
<text transform="translate(-0.45 0) scale(0.7314 1)" font-size="35.89" font-weight="bold" fill="#111">E</text>
<text transform="translate(16.14 0) scale(0.6271 1)" font-size="35.89" font-weight="bold" fill="#111">V</text>
<text transform="translate(32.58 0) scale(0.6224 1)" font-size="35.89" font-weight="bold" fill="#111">A</text>
<text transform="translate(49.20 0) scale(0.7314 1)" font-size="35.89" font-weight="bold" fill="#111">P</text>
<text transform="translate(64.47 0) scale(0.6452 1)" font-size="35.89" font-weight="bold" fill="#111">O</text>
<text transform="translate(81.63 0) scale(0.6147 1)" font-size="35.89" font-weight="bold" fill="#111">R</text>
<text transform="translate(98.20 0) scale(0.6224 1)" font-size="35.89" font-weight="bold" fill="#111">A</text>
<text transform="translate(114.43 0) scale(0.6897 1)" font-size="35.89" font-weight="bold" fill="#111">T</text>
<text transform="translate(130.09 0) scale(0.6452 1)" font-size="35.89" font-weight="bold" fill="#111">O</text>
<text transform="translate(147.25 0) scale(0.6147 1)" font-size="35.89" font-weight="bold" fill="#111">R</text>
<text transform="translate(180.70 0) scale(0.7314 1)" font-size="35.89" font-weight="bold" fill="#111">F</text>
<text transform="translate(196.63 0) scale(0.6224 1)" font-size="35.89" font-weight="bold" fill="#111">A</text>
<text transform="translate(212.82 0) scale(0.6360 1)" font-size="35.89" font-weight="bold" fill="#111">N</text>
</g>
<line x1="1170.00" y1="268.80" x2="1170.00" y2="469.00" stroke="#1e1e1e" stroke-width="2.00" />
<circle cx="1171.00" cy="492.00" r="23.00" stroke="#333" stroke-width="2.00" fill="none"/>
<line x1="1154.70" y1="475.70" x2="1187.30" y2="508.30" stroke="#333" stroke-width="2.00" />
<line x1="1187.30" y1="475.70" x2="1154.70" y2="508.30" stroke="#333" stroke-width="2.00" />
<line x1="1170.00" y1="515.00" x2="1170.00" y2="735.00" stroke="#1e1e1e" stroke-width="2.00" />
<g transform="translate(1228.00 514.00) rotate(-90)">
<text transform="translate(-0.43 0) scale(0.6909 1)" font-size="36.65" font-weight="bold" fill="#111">L</text>
<text transform="translate(15.82 0) scale(0.5957 1)" font-size="36.65" font-weight="bold" fill="#111">A</text>
<text transform="translate(31.78 0) scale(0.4677 1)" font-size="36.65" font-weight="bold" fill="#111">M</text>
<text transform="translate(47.64 0) scale(0.7428 1)" font-size="36.65" font-weight="bold" fill="#111">P</text>
</g>
<rect x="1086.00" y="725.00" width="96.00" height="40.00" stroke="#111" stroke-width="4.20" fill="none"/>
<circle cx="1096.00" cy="735.50" r="1.80" stroke="#111" stroke-width="1.00" fill="#111"/>
<circle cx="1170.00" cy="735.50" r="1.80" stroke="#111" stroke-width="1.00" fill="#111"/>
<line x1="1132.50" y1="762.00" x2="1166.00" y2="731.00" stroke="#222" stroke-width="2.00" />
<polyline points="1133.00,765.00 1133.00,845.00 1095.00,845.00 1095.00,915.50" stroke="#1e1e1e" stroke-width="2.00" fill="none" stroke-linejoin="miter" />
<line x1="1170.00" y1="765.00" x2="1170.00" y2="915.50" stroke="#1e1e1e" stroke-width="2.00" />
<rect x="1086.00" y="916.00" width="96.00" height="39.00" stroke="#111" stroke-width="4.20" fill="none"/>
<circle cx="1096.00" cy="925.00" r="1.80" stroke="#111" stroke-width="1.00" fill="#111"/>
<circle cx="1170.00" cy="925.00" r="1.80" stroke="#111" stroke-width="1.00" fill="#111"/>
<line x1="1132.50" y1="952.00" x2="1162.50" y2="922.00" stroke="#222" stroke-width="2.00" />
<line x1="1133.00" y1="955.00" x2="1133.00" y2="1029.00" stroke="#1e1e1e" stroke-width="2.00" />
<g transform="translate(1214.00 767.00) rotate(-90)">
<text transform="translate(-0.42 0) scale(0.6556 1)" font-size="36.65" font-weight="bold" fill="#111">D</text>
<text transform="translate(15.28 0) scale(0.6321 1)" font-size="36.65" font-weight="bold" fill="#111">O</text>
<text transform="translate(31.70 0) scale(0.6321 1)" font-size="36.65" font-weight="bold" fill="#111">O</text>
<text transform="translate(48.87 0) scale(0.6022 1)" font-size="36.65" font-weight="bold" fill="#111">R</text>
</g>
<g transform="translate(1252.00 767.00) rotate(-90)">
<text transform="translate(-1.55 0) scale(0.7931 1)" font-size="36.65" font-weight="bold" fill="#111">S</text>
<text transform="translate(15.17 0) scale(0.4523 1)" font-size="36.65" font-weight="bold" fill="#111">W</text>
<text transform="translate(34.49 0) scale(0.8000 1)" font-size="36.65" font-weight="bold" fill="#111">I</text>
<text transform="translate(48.52 0) scale(0.6897 1)" font-size="36.65" font-weight="bold" fill="#111">T</text>
<text transform="translate(64.35 0) scale(0.7348 1)" font-size="36.65" font-weight="bold" fill="#111">C</text>
<text transform="translate(82.05 0) scale(0.5897 1)" font-size="36.65" font-weight="bold" fill="#111">H</text>
</g>
<g transform="translate(1214.00 957.00) rotate(-90)">
<text transform="translate(-0.43 0) scale(0.6657 1)" font-size="36.65" font-weight="bold" fill="#111">D</text>
<text transform="translate(15.52 0) scale(0.6418 1)" font-size="36.65" font-weight="bold" fill="#111">O</text>
<text transform="translate(32.18 0) scale(0.6418 1)" font-size="36.65" font-weight="bold" fill="#111">O</text>
<text transform="translate(49.62 0) scale(0.6115 1)" font-size="36.65" font-weight="bold" fill="#111">R</text>
</g>
<g transform="translate(1252.00 957.00) rotate(-90)">
<text transform="translate(-1.55 0) scale(0.7931 1)" font-size="36.65" font-weight="bold" fill="#111">S</text>
<text transform="translate(15.17 0) scale(0.4523 1)" font-size="36.65" font-weight="bold" fill="#111">W</text>
<text transform="translate(34.49 0) scale(0.8000 1)" font-size="36.65" font-weight="bold" fill="#111">I</text>
<text transform="translate(48.52 0) scale(0.6897 1)" font-size="36.65" font-weight="bold" fill="#111">T</text>
<text transform="translate(64.35 0) scale(0.7348 1)" font-size="36.65" font-weight="bold" fill="#111">C</text>
<text transform="translate(82.05 0) scale(0.5897 1)" font-size="36.65" font-weight="bold" fill="#111">H</text>
</g>
<rect x="1276.00" y="578.00" width="21.00" height="77.00" stroke="#1e1e1e" stroke-width="2.00" fill="none"/>
<line x1="1276.00" y1="591.00" x2="1297.00" y2="591.00" stroke="#1e1e1e" stroke-width="2.00" />
<line x1="1276.00" y1="604.00" x2="1297.00" y2="604.00" stroke="#1e1e1e" stroke-width="2.00" />
<line x1="1276.00" y1="616.00" x2="1297.00" y2="616.00" stroke="#1e1e1e" stroke-width="2.00" />
<line x1="1276.00" y1="629.00" x2="1297.00" y2="629.00" stroke="#1e1e1e" stroke-width="2.00" />
<line x1="1276.00" y1="642.00" x2="1297.00" y2="642.00" stroke="#1e1e1e" stroke-width="2.00" />
<line x1="1287.00" y1="655.00" x2="1287.00" y2="1029.00" stroke="#1e1e1e" stroke-width="2.00" />
<g transform="translate(1327.50 657.00) rotate(-90)">
<text transform="translate(-0.36 0) scale(0.6173 1)" font-size="34.36" font-weight="bold" fill="#111">H</text>
<text transform="translate(15.99 0) scale(0.7674 1)" font-size="34.36" font-weight="bold" fill="#111">E</text>
<text transform="translate(32.67 0) scale(0.6515 1)" font-size="34.36" font-weight="bold" fill="#111">A</text>
<text transform="translate(48.94 0) scale(0.7220 1)" font-size="34.36" font-weight="bold" fill="#111">T</text>
<text transform="translate(65.32 0) scale(0.7674 1)" font-size="34.36" font-weight="bold" fill="#111">E</text>
<text transform="translate(81.84 0) scale(0.6435 1)" font-size="34.36" font-weight="bold" fill="#111">R</text>
</g>
<line x1="199.00" y1="1029.00" x2="640.00" y2="1029.00" stroke="#444" stroke-width="2.00" />
<line x1="637.00" y1="1029.50" x2="1287.00" y2="1029.50" stroke="#999" stroke-width="3.00" />
<circle cx="673.00" cy="1029.00" r="5.20" fill="#2fd83a" stroke="#0a6a10" stroke-width="1.6"/>
<circle cx="787.00" cy="1029.00" r="5.20" fill="#2fd83a" stroke="#0a6a10" stroke-width="1.6"/>
<circle cx="873.50" cy="1029.00" r="5.20" fill="#2fd83a" stroke="#0a6a10" stroke-width="1.6"/>
<circle cx="1134.00" cy="1029.00" r="5.20" fill="#2fd83a" stroke="#0a6a10" stroke-width="1.6"/>
<rect x="1392.00" y="246.00" width="442.00" height="877.00" stroke="#1e1e1e" stroke-width="2.20" fill="none"/>
<line x1="1392.50" y1="321.00" x2="1834.00" y2="321.00" stroke="#1e1e1e" stroke-width="2.20" />
<line x1="1392.50" y1="388.00" x2="1834.00" y2="388.00" stroke="#1e1e1e" stroke-width="2.20" />
<line x1="1392.50" y1="456.00" x2="1834.00" y2="456.00" stroke="#1e1e1e" stroke-width="2.20" />
<line x1="1392.50" y1="522.00" x2="1834.00" y2="522.00" stroke="#1e1e1e" stroke-width="2.20" />
<line x1="1392.50" y1="588.00" x2="1834.00" y2="588.00" stroke="#1e1e1e" stroke-width="2.20" />
<line x1="1392.50" y1="654.00" x2="1834.00" y2="654.00" stroke="#1e1e1e" stroke-width="2.20" />
<line x1="1392.50" y1="722.00" x2="1834.00" y2="722.00" stroke="#1e1e1e" stroke-width="2.20" />
<line x1="1392.50" y1="788.00" x2="1834.00" y2="788.00" stroke="#1e1e1e" stroke-width="2.20" />
<line x1="1392.50" y1="856.00" x2="1834.00" y2="856.00" stroke="#1e1e1e" stroke-width="2.20" />
<line x1="1392.50" y1="923.00" x2="1834.00" y2="923.00" stroke="#1e1e1e" stroke-width="2.20" />
<line x1="1392.50" y1="990.00" x2="1834.00" y2="990.00" stroke="#1e1e1e" stroke-width="2.20" />
<line x1="1392.50" y1="1056.00" x2="1834.00" y2="1056.00" stroke="#1e1e1e" stroke-width="2.20" />
<line x1="1624.00" y1="321.00" x2="1624.00" y2="1123.00" stroke="#1e1e1e" stroke-width="2.20" />
<text transform="translate(1490.57 292.50) scale(0.7134 1)" font-size="34.36" font-weight="bold" fill="#111" >D</text>
<text transform="translate(1507.29 292.50) scale(0.7815 1)" font-size="34.36" font-weight="bold" fill="#111" >E</text>
<text transform="translate(1523.77 292.50) scale(0.8987 1)" font-size="34.36" font-weight="bold" fill="#111" >S</text>
<text transform="translate(1543.92 292.50) scale(0.8000 1)" font-size="34.36" font-weight="bold" fill="#111" >I</text>
<text transform="translate(1556.86 292.50) scale(0.6667 1)" font-size="34.36" font-weight="bold" fill="#111" >G</text>
<text transform="translate(1574.28 292.50) scale(0.6781 1)" font-size="34.36" font-weight="bold" fill="#111" >N</text>
<text transform="translate(1591.01 292.50) scale(0.7815 1)" font-size="34.36" font-weight="bold" fill="#111" >E</text>
<text transform="translate(1607.79 292.50) scale(0.7134 1)" font-size="34.36" font-weight="bold" fill="#111" >D</text>
<text transform="translate(1641.22 292.50) scale(0.8274 1)" font-size="34.36" font-weight="bold" fill="#111" >P</text>
<text transform="translate(1658.07 292.50) scale(0.6553 1)" font-size="34.36" font-weight="bold" fill="#111" >R</text>
<text transform="translate(1674.74 292.50) scale(0.7815 1)" font-size="34.36" font-weight="bold" fill="#111" >E</text>
<text transform="translate(1691.23 292.50) scale(0.8987 1)" font-size="34.36" font-weight="bold" fill="#111" >S</text>
<text transform="translate(1707.97 292.50) scale(0.8987 1)" font-size="34.36" font-weight="bold" fill="#111" >S</text>
<text transform="translate(1724.84 292.50) scale(0.6958 1)" font-size="34.36" font-weight="bold" fill="#111" >U</text>
<text transform="translate(1741.79 292.50) scale(0.6553 1)" font-size="34.36" font-weight="bold" fill="#111" >R</text>
<text transform="translate(1758.47 292.50) scale(0.7815 1)" font-size="34.36" font-weight="bold" fill="#111" >E</text>
<text transform="translate(1396.98 365.70) scale(0.7781 1)" font-size="34.82" font-weight="bold" fill="#111" >C</text>
<text transform="translate(1414.70 365.70) scale(0.7643 1)" font-size="34.82" font-weight="bold" fill="#111" >L</text>
<text transform="translate(1434.68 365.70) scale(0.8000 1)" font-size="34.82" font-weight="bold" fill="#111" >I</text>
<text transform="translate(1448.55 365.70) scale(0.5175 1)" font-size="34.82" font-weight="bold" fill="#111" >M</text>
<text transform="translate(1465.49 365.70) scale(0.6590 1)" font-size="34.82" font-weight="bold" fill="#111" >A</text>
<text transform="translate(1482.17 365.70) scale(0.7303 1)" font-size="34.82" font-weight="bold" fill="#111" >T</text>
<text transform="translate(1498.96 365.70) scale(0.7762 1)" font-size="34.82" font-weight="bold" fill="#111" >E</text>
<text transform="translate(1396.42 431.30) scale(0.6417 1)" font-size="34.97" font-weight="bold" fill="#111" >R</text>
<text transform="translate(1413.05 431.30) scale(0.7635 1)" font-size="34.97" font-weight="bold" fill="#111" >E</text>
<text transform="translate(1430.44 431.30) scale(0.7635 1)" font-size="34.97" font-weight="bold" fill="#111" >F</text>
<text transform="translate(1446.48 431.30) scale(0.6417 1)" font-size="34.97" font-weight="bold" fill="#111" >R</text>
<text transform="translate(1466.12 431.30) scale(0.8000 1)" font-size="34.97" font-weight="bold" fill="#111" >I</text>
<text transform="translate(1479.12 431.30) scale(0.6528 1)" font-size="34.97" font-weight="bold" fill="#111" >G</text>
<text transform="translate(1496.49 431.30) scale(0.7635 1)" font-size="34.97" font-weight="bold" fill="#111" >E</text>
<text transform="translate(1513.23 431.30) scale(0.6417 1)" font-size="34.97" font-weight="bold" fill="#111" >R</text>
<text transform="translate(1530.08 431.30) scale(0.6497 1)" font-size="34.97" font-weight="bold" fill="#111" >A</text>
<text transform="translate(1546.55 431.30) scale(0.6639 1)" font-size="34.97" font-weight="bold" fill="#111" >N</text>
<text transform="translate(1563.29 431.30) scale(0.7200 1)" font-size="34.97" font-weight="bold" fill="#111" >T</text>
<text transform="translate(1406.58 497.40) scale(0.6277 1)" font-size="35.74" font-weight="bold" fill="#111" >A</text>
<text transform="translate(1422.98 497.40) scale(0.4929 1)" font-size="35.74" font-weight="bold" fill="#111" >M</text>
<text transform="translate(1438.62 497.40) scale(0.6507 1)" font-size="35.74" font-weight="bold" fill="#111" >O</text>
<text transform="translate(1455.64 497.40) scale(0.6583 1)" font-size="35.74" font-weight="bold" fill="#111" >U</text>
<text transform="translate(1472.27 497.40) scale(0.6415 1)" font-size="35.74" font-weight="bold" fill="#111" >N</text>
<text transform="translate(1488.79 497.40) scale(0.6957 1)" font-size="35.74" font-weight="bold" fill="#111" >T</text>
<text transform="translate(1400.24 568.40) scale(0.7179 1)" font-size="37.26" font-weight="bold" fill="#111" >F</text>
<text transform="translate(1415.54 568.40) scale(0.6332 1)" font-size="37.26" font-weight="bold" fill="#111" >O</text>
<text transform="translate(1433.19 568.40) scale(0.6109 1)" font-size="37.26" font-weight="bold" fill="#111" >A</text>
<text transform="translate(1449.83 568.40) scale(0.4797 1)" font-size="37.26" font-weight="bold" fill="#111" >M</text>
<text transform="translate(1483.35 568.40) scale(0.6109 1)" font-size="37.26" font-weight="bold" fill="#111" >A</text>
<text transform="translate(1499.18 568.40) scale(0.6139 1)" font-size="37.26" font-weight="bold" fill="#111" >G</text>
<text transform="translate(1516.57 568.40) scale(0.7179 1)" font-size="37.26" font-weight="bold" fill="#111" >E</text>
<text transform="translate(1533.29 568.40) scale(0.6243 1)" font-size="37.26" font-weight="bold" fill="#111" >N</text>
<text transform="translate(1550.06 568.40) scale(0.6770 1)" font-size="37.26" font-weight="bold" fill="#111" >T</text>
<text transform="translate(1397.92 635.50) scale(0.6001 1)" font-size="37.42" font-weight="bold" fill="#111" >R</text>
<text transform="translate(1414.78 635.50) scale(0.6076 1)" font-size="37.42" font-weight="bold" fill="#111" >A</text>
<text transform="translate(1431.30 635.50) scale(0.6734 1)" font-size="37.42" font-weight="bold" fill="#111" >T</text>
<text transform="translate(1447.93 635.50) scale(0.7156 1)" font-size="37.42" font-weight="bold" fill="#111" >E</text>
<text transform="translate(1464.66 635.50) scale(0.6533 1)" font-size="37.42" font-weight="bold" fill="#111" >D</text>
<text transform="translate(1498.23 635.50) scale(0.6123 1)" font-size="37.42" font-weight="bold" fill="#111" >V</text>
<text transform="translate(1514.03 635.50) scale(0.6298 1)" font-size="37.42" font-weight="bold" fill="#111" >O</text>
<text transform="translate(1531.43 635.50) scale(0.7047 1)" font-size="37.42" font-weight="bold" fill="#111" >L</text>
<text transform="translate(1548.18 635.50) scale(0.6734 1)" font-size="37.42" font-weight="bold" fill="#111" >T</text>
<text transform="translate(1565.05 635.50) scale(0.6076 1)" font-size="37.42" font-weight="bold" fill="#111" >A</text>
<text transform="translate(1580.86 635.50) scale(0.6106 1)" font-size="37.42" font-weight="bold" fill="#111" >G</text>
<text transform="translate(1598.21 635.50) scale(0.7156 1)" font-size="37.42" font-weight="bold" fill="#111" >E</text>
<text transform="translate(1405.43 701.00) scale(0.7775 1)" font-size="35.13" font-weight="bold" fill="#111" >F</text>
<text transform="translate(1421.62 701.00) scale(0.6368 1)" font-size="35.13" font-weight="bold" fill="#111" >R</text>
<text transform="translate(1438.18 701.00) scale(0.7594 1)" font-size="35.13" font-weight="bold" fill="#111" >E</text>
<text transform="translate(1454.13 701.00) scale(0.6636 1)" font-size="35.13" font-weight="bold" fill="#111" >Q</text>
<text transform="translate(1471.31 701.00) scale(0.6761 1)" font-size="35.13" font-weight="bold" fill="#111" >U</text>
<text transform="translate(1488.08 701.00) scale(0.7594 1)" font-size="35.13" font-weight="bold" fill="#111" >E</text>
<text transform="translate(1504.73 701.00) scale(0.6589 1)" font-size="35.13" font-weight="bold" fill="#111" >N</text>
<text transform="translate(1520.49 701.00) scale(0.7612 1)" font-size="35.13" font-weight="bold" fill="#111" >C</text>
<text transform="translate(1538.02 701.00) scale(0.6631 1)" font-size="35.13" font-weight="bold" fill="#111" >Y</text>
<text transform="translate(1404.62 765.30) scale(0.6245 1)" font-size="35.89" font-weight="bold" fill="#111" >R</text>
<text transform="translate(1421.45 765.30) scale(0.6323 1)" font-size="35.89" font-weight="bold" fill="#111" >A</text>
<text transform="translate(1437.94 765.30) scale(0.7007 1)" font-size="35.89" font-weight="bold" fill="#111" >T</text>
<text transform="translate(1454.54 765.30) scale(0.7447 1)" font-size="35.89" font-weight="bold" fill="#111" >E</text>
<text transform="translate(1471.24 765.30) scale(0.6798 1)" font-size="35.89" font-weight="bold" fill="#111" >D</text>
<text transform="translate(1503.69 765.30) scale(0.7465 1)" font-size="35.89" font-weight="bold" fill="#111" >C</text>
<text transform="translate(1521.07 765.30) scale(0.6631 1)" font-size="35.89" font-weight="bold" fill="#111" >U</text>
<text transform="translate(1537.95 765.30) scale(0.6245 1)" font-size="35.89" font-weight="bold" fill="#111" >R</text>
<text transform="translate(1554.62 765.30) scale(0.6245 1)" font-size="35.89" font-weight="bold" fill="#111" >R</text>
<text transform="translate(1571.21 765.30) scale(0.7447 1)" font-size="35.89" font-weight="bold" fill="#111" >E</text>
<text transform="translate(1587.89 765.30) scale(0.6462 1)" font-size="35.89" font-weight="bold" fill="#111" >N</text>
<text transform="translate(1604.61 765.30) scale(0.7007 1)" font-size="35.89" font-weight="bold" fill="#111" >T</text>
<text transform="translate(1404.53 834.00) scale(0.7671 1)" font-size="35.89" font-weight="bold" fill="#111" >P</text>
<text transform="translate(1420.35 834.00) scale(0.6594 1)" font-size="35.89" font-weight="bold" fill="#111" >O</text>
<text transform="translate(1438.03 834.00) scale(0.4623 1)" font-size="35.89" font-weight="bold" fill="#111" >W</text>
<text transform="translate(1454.58 834.00) scale(0.7492 1)" font-size="35.89" font-weight="bold" fill="#111" >E</text>
<text transform="translate(1471.42 834.00) scale(0.6283 1)" font-size="35.89" font-weight="bold" fill="#111" >R</text>
<text transform="translate(1507.80 834.00) scale(0.8000 1)" font-size="35.89" font-weight="bold" fill="#111" >I</text>
<text transform="translate(1521.66 834.00) scale(0.6500 1)" font-size="35.89" font-weight="bold" fill="#111" >N</text>
<text transform="translate(1538.66 834.00) scale(0.7671 1)" font-size="35.89" font-weight="bold" fill="#111" >P</text>
<text transform="translate(1555.04 834.00) scale(0.6670 1)" font-size="35.89" font-weight="bold" fill="#111" >U</text>
<text transform="translate(1572.01 834.00) scale(0.7049 1)" font-size="35.89" font-weight="bold" fill="#111" >T</text>
<text transform="translate(1397.57 901.60) scale(0.6678 1)" font-size="36.65" font-weight="bold" fill="#111" >D</text>
<text transform="translate(1414.26 901.60) scale(0.7316 1)" font-size="36.65" font-weight="bold" fill="#111" >E</text>
<text transform="translate(1431.05 901.60) scale(0.7916 1)" font-size="36.65" font-weight="bold" fill="#111" >F</text>
<text transform="translate(1447.78 901.60) scale(0.6135 1)" font-size="36.65" font-weight="bold" fill="#111" >R</text>
<text transform="translate(1463.73 901.60) scale(0.6439 1)" font-size="36.65" font-weight="bold" fill="#111" >O</text>
<text transform="translate(1481.41 901.60) scale(0.7916 1)" font-size="36.65" font-weight="bold" fill="#111" >S</text>
<text transform="translate(1497.93 901.60) scale(0.6883 1)" font-size="36.65" font-weight="bold" fill="#111" >T</text>
<text transform="translate(1531.28 901.60) scale(0.7745 1)" font-size="36.65" font-weight="bold" fill="#111" >P</text>
<text transform="translate(1547.33 901.60) scale(0.6439 1)" font-size="36.65" font-weight="bold" fill="#111" >O</text>
<text transform="translate(1564.97 901.60) scale(0.4514 1)" font-size="36.65" font-weight="bold" fill="#111" >W</text>
<text transform="translate(1581.47 901.60) scale(0.7316 1)" font-size="36.65" font-weight="bold" fill="#111" >E</text>
<text transform="translate(1598.26 901.60) scale(0.6135 1)" font-size="36.65" font-weight="bold" fill="#111" >R</text>
<text transform="translate(1398.95 968.80) scale(0.7190 1)" font-size="36.81" font-weight="bold" fill="#111" >L</text>
<text transform="translate(1415.93 968.80) scale(0.6199 1)" font-size="36.81" font-weight="bold" fill="#111" >A</text>
<text transform="translate(1432.61 968.80) scale(0.4867 1)" font-size="36.81" font-weight="bold" fill="#111" >M</text>
<text transform="translate(1449.56 968.80) scale(0.7390 1)" font-size="36.81" font-weight="bold" fill="#111" >P</text>
<text transform="translate(1483.07 968.80) scale(0.7390 1)" font-size="36.81" font-weight="bold" fill="#111" >P</text>
<text transform="translate(1498.79 968.80) scale(0.6426 1)" font-size="36.81" font-weight="bold" fill="#111" >O</text>
<text transform="translate(1516.46 968.80) scale(0.4505 1)" font-size="36.81" font-weight="bold" fill="#111" >W</text>
<text transform="translate(1533.00 968.80) scale(0.7301 1)" font-size="36.81" font-weight="bold" fill="#111" >E</text>
<text transform="translate(1549.83 968.80) scale(0.6123 1)" font-size="36.81" font-weight="bold" fill="#111" >R</text>
<text transform="translate(1398.96 1032.00) scale(0.6552 1)" font-size="35.58" font-weight="bold" fill="#111" >N</text>
<text transform="translate(1415.70 1032.00) scale(0.7552 1)" font-size="35.58" font-weight="bold" fill="#111" >E</text>
<text transform="translate(1432.52 1032.00) scale(0.7106 1)" font-size="35.58" font-weight="bold" fill="#111" >T</text>
<text transform="translate(1466.19 1032.00) scale(0.4660 1)" font-size="35.58" font-weight="bold" fill="#111" >W</text>
<text transform="translate(1482.73 1032.00) scale(0.7552 1)" font-size="35.58" font-weight="bold" fill="#111" >E</text>
<text transform="translate(1502.45 1032.00) scale(0.8000 1)" font-size="35.58" font-weight="bold" fill="#111" >I</text>
<text transform="translate(1515.58 1032.00) scale(0.6443 1)" font-size="35.58" font-weight="bold" fill="#111" >G</text>
<text transform="translate(1533.09 1032.00) scale(0.6075 1)" font-size="35.58" font-weight="bold" fill="#111" >H</text>
<text transform="translate(1549.82 1032.00) scale(0.7106 1)" font-size="35.58" font-weight="bold" fill="#111" >T</text>
<text transform="translate(1399.09 1096.00) scale(0.5039 1)" font-size="35.58" font-weight="bold" fill="#111" >M</text>
<text transform="translate(1415.95 1096.00) scale(0.6418 1)" font-size="35.58" font-weight="bold" fill="#111" >A</text>
<text transform="translate(1432.50 1096.00) scale(0.6558 1)" font-size="35.58" font-weight="bold" fill="#111" >N</text>
<text transform="translate(1449.12 1096.00) scale(0.6730 1)" font-size="35.58" font-weight="bold" fill="#111" >U</text>
<text transform="translate(1466.55 1096.00) scale(0.7739 1)" font-size="35.58" font-weight="bold" fill="#111" >F</text>
<text transform="translate(1483.04 1096.00) scale(0.6418 1)" font-size="35.58" font-weight="bold" fill="#111" >A</text>
<text transform="translate(1498.72 1096.00) scale(0.7577 1)" font-size="35.58" font-weight="bold" fill="#111" >C</text>
<text transform="translate(1516.41 1096.00) scale(0.7112 1)" font-size="35.58" font-weight="bold" fill="#111" >T</text>
<text transform="translate(1532.98 1096.00) scale(0.6730 1)" font-size="35.58" font-weight="bold" fill="#111" >U</text>
<text transform="translate(1549.97 1096.00) scale(0.6339 1)" font-size="35.58" font-weight="bold" fill="#111" >R</text>
<text transform="translate(1566.67 1096.00) scale(0.7559 1)" font-size="35.58" font-weight="bold" fill="#111" >E</text>
<text transform="translate(1583.47 1096.00) scale(0.6900 1)" font-size="35.58" font-weight="bold" fill="#111" >D</text>
<text transform="translate(1669.85 367.50) scale(0.8379 1)" font-size="33.60" font-weight="normal" fill="#111" stroke="#111" stroke-width="0.60" >C</text>
<text transform="translate(1686.85 367.50) scale(0.9163 1)" font-size="33.60" font-weight="normal" fill="#111" stroke="#111" stroke-width="0.60" >L</text>
<text transform="translate(1704.25 367.50) scale(0.6783 1)" font-size="33.60" font-weight="normal" fill="#111" stroke="#111" stroke-width="0.60" >A</text>
<text transform="translate(1719.35 367.50) scale(1.0500 1)" font-size="33.60" font-weight="normal" fill="#111" stroke="#111" stroke-width="0.60" >S</text>
<text transform="translate(1736.09 367.50) scale(1.0500 1)" font-size="33.60" font-weight="normal" fill="#111" stroke="#111" stroke-width="0.60" >S</text>
<text transform="translate(1770.76 367.50) scale(1.0289 1)" font-size="33.60" font-weight="normal" fill="#111" stroke="#111" stroke-width="0.60" >4</text>
<text transform="translate(1680.27 433.50) scale(0.7238 1)" font-size="35.13" font-weight="normal" fill="#111" stroke="#111" stroke-width="0.60" >R</text>
<text transform="translate(1696.94 433.50) scale(1.0500 1)" font-size="35.13" font-weight="normal" fill="#111" stroke="#111" stroke-width="0.60" >2</text>
<text transform="translate(1713.76 433.50) scale(1.0500 1)" font-size="35.13" font-weight="normal" fill="#111" stroke="#111" stroke-width="0.60" >9</text>
<text transform="translate(1730.46 433.50) scale(1.0500 1)" font-size="35.13" font-weight="normal" fill="#111" stroke="#111" stroke-width="0.60" >0</text>
<text transform="translate(1687.48 499.00) scale(0.8000 1)" font-size="35.89" font-weight="normal" fill="#111" stroke="#111" stroke-width="0.60" >1</text>
<text transform="translate(1702.21 499.00) scale(1.0500 1)" font-size="35.89" font-weight="normal" fill="#111" stroke="#111" stroke-width="0.60" >5</text>
<text transform="translate(1719.51 499.00) scale(1.0500 1)" font-size="35.89" font-weight="normal" fill="#111" stroke="#111" stroke-width="0.60" >0</text>
<text transform="translate(1736.14 499.00) scale(1.0345 1)" font-size="35.89" font-weight="normal" fill="#111" stroke="#111" stroke-width="0.60" >g</text>
<text transform="translate(1648.78 633.00) scale(0.6445 1)" font-size="34.36" font-weight="normal" fill="#111" stroke="#111" stroke-width="0.60" >A</text>
<text transform="translate(1664.14 633.00) scale(0.7961 1)" font-size="34.36" font-weight="normal" fill="#111" stroke="#111" stroke-width="0.60" >C</text>
<text transform="translate(1680.52 633.00) scale(1.0500 1)" font-size="34.36" font-weight="normal" fill="#111" stroke="#111" stroke-width="0.60" >2</text>
<text transform="translate(1696.78 633.00) scale(1.0500 1)" font-size="34.36" font-weight="normal" fill="#111" stroke="#111" stroke-width="0.60" >2</text>
<text transform="translate(1712.85 633.00) scale(1.0500 1)" font-size="34.36" font-weight="normal" fill="#111" stroke="#111" stroke-width="0.60" >0</text>
<text transform="translate(1745.58 633.00) scale(1.0500 1)" font-size="34.36" font-weight="normal" fill="#111" stroke="#111" stroke-width="0.60" >2</text>
<text transform="translate(1762.20 633.00) scale(0.9775 1)" font-size="34.36" font-weight="normal" fill="#111" stroke="#111" stroke-width="0.60" >4</text>
<text transform="translate(1777.91 633.00) scale(1.0500 1)" font-size="34.36" font-weight="normal" fill="#111" stroke="#111" stroke-width="0.60" >0</text>
<text transform="translate(1795.13 633.00) scale(0.6494 1)" font-size="34.36" font-weight="normal" fill="#111" stroke="#111" stroke-width="0.60" >V</text>
<text transform="translate(1687.86 701.00) scale(1.0500 1)" font-size="35.13" font-weight="normal" fill="#111" stroke="#111" stroke-width="0.60" >5</text>
<text transform="translate(1704.67 701.00) scale(1.0500 1)" font-size="35.13" font-weight="normal" fill="#111" stroke="#111" stroke-width="0.60" >0</text>
<text transform="translate(1721.77 701.00) scale(0.6776 1)" font-size="35.13" font-weight="normal" fill="#111" stroke="#111" stroke-width="0.60" >H</text>
<text transform="translate(1738.66 701.00) scale(1.0500 1)" font-size="35.13" font-weight="normal" fill="#111" stroke="#111" stroke-width="0.60" >z</text>
<text transform="translate(1686.86 764.00) scale(1.0500 1)" font-size="35.13" font-weight="normal" fill="#111" stroke="#111" stroke-width="0.60" >5</text>
<text transform="translate(1709.75 764.00) scale(0.8000 1)" font-size="35.13" font-weight="normal" fill="#111" stroke="#111" stroke-width="0.60" >.</text>
<text transform="translate(1720.87 764.00) scale(1.0500 1)" font-size="35.13" font-weight="normal" fill="#111" stroke="#111" stroke-width="0.60" >0</text>
<text transform="translate(1738.62 764.00) scale(0.6524 1)" font-size="35.13" font-weight="normal" fill="#111" stroke="#111" stroke-width="0.60" >A</text>
<text transform="translate(1687.57 833.00) scale(1.0500 1)" font-size="35.13" font-weight="normal" fill="#111" stroke="#111" stroke-width="0.60" >7</text>
<text transform="translate(1704.78 833.00) scale(1.0500 1)" font-size="35.13" font-weight="normal" fill="#111" stroke="#111" stroke-width="0.60" >8</text>
<text transform="translate(1721.31 833.00) scale(1.0500 1)" font-size="35.13" font-weight="normal" fill="#111" stroke="#111" stroke-width="0.60" >0</text>
<text transform="translate(1739.11 833.00) scale(0.4802 1)" font-size="35.13" font-weight="normal" fill="#111" stroke="#111" stroke-width="0.60" >W</text>
<text transform="translate(1681.67 897.00) scale(1.0500 1)" font-size="33.60" font-weight="normal" fill="#111" stroke="#111" stroke-width="0.60" >7</text>
<text transform="translate(1699.24 897.00) scale(1.0500 1)" font-size="33.60" font-weight="normal" fill="#111" stroke="#111" stroke-width="0.60" >0</text>
<text transform="translate(1716.15 897.00) scale(1.0500 1)" font-size="33.60" font-weight="normal" fill="#111" stroke="#111" stroke-width="0.60" >0</text>
<text transform="translate(1733.75 897.00) scale(0.5135 1)" font-size="33.60" font-weight="normal" fill="#111" stroke="#111" stroke-width="0.60" >W</text>
<text transform="translate(1680.81 1032.00) scale(1.0500 1)" font-size="36.65" font-weight="normal" fill="#111" stroke="#111" stroke-width="0.60" >2</text>
<text transform="translate(1697.50 1032.00) scale(1.0385 1)" font-size="36.65" font-weight="normal" fill="#111" stroke="#111" stroke-width="0.60" >0</text>
<text transform="translate(1716.09 1032.00) scale(0.8000 1)" font-size="36.65" font-weight="normal" fill="#111" stroke="#111" stroke-width="0.60" >1</text>
<text transform="translate(1731.88 1032.00) scale(0.6443 1)" font-size="36.65" font-weight="normal" fill="#111" stroke="#111" stroke-width="0.60" >K</text>
<text transform="translate(1747.78 1032.00) scale(1.0049 1)" font-size="36.65" font-weight="normal" fill="#111" stroke="#111" stroke-width="0.60" >g</text>
<line x1="1733.00" y1="622.00" x2="1746.00" y2="622.00" stroke="#222" stroke-width="1.80" />
<text transform="translate(1685.04 569.60) scale(0.7648 1)" font-size="36.35" font-weight="bold" fill="#111" >C</text>
<text transform="translate(1703.88 569.60) scale(0.9079 1)" font-size="28.10" font-weight="bold" fill="#111" >5</text>
<text transform="translate(1716.23 569.60) scale(0.6225 1)" font-size="34.97" font-weight="bold" fill="#111" >H</text>
<text transform="translate(1731.98 569.60) scale(0.8000 1)" font-size="26.88" font-weight="bold" fill="#111" >1</text>
<text transform="translate(1746.07 569.60) scale(1.1060 1)" font-size="26.88" font-weight="bold" fill="#111" >0</text>
<text transform="translate(1686.70 966.60) scale(0.9852 1)" font-size="36.20" font-weight="bold" fill="#111" >2</text>
<line x1="1709.50" y1="948.00" x2="1727.00" y2="964.20" stroke="#111" stroke-width="2.40" />
<line x1="1727.00" y1="948.00" x2="1709.50" y2="964.20" stroke="#111" stroke-width="2.40" />
<text transform="translate(1733.38 966.60) scale(0.8000 1)" font-size="36.20" font-weight="bold" fill="#111" >1</text>
<text transform="translate(1750.05 966.60) scale(0.4869 1)" font-size="36.20" font-weight="bold" fill="#111" >W</text>
<path d="M108,1163 A42.5,42.5 0 1 0 108,1248" stroke="#111" stroke-width="15.50" fill="none" />
<path d="M194.5,1163 A42.5,42.5 0 1 0 194.5,1248" stroke="#111" stroke-width="15.50" fill="none" />
<line x1="155.00" y1="1205.50" x2="184.60" y2="1205.50" stroke="#111" stroke-width="15.00" />
<line x1="245.20" y1="1145.20" x2="334.10" y2="1237.80" stroke="#333" stroke-width="1.50" />
<line x1="339.00" y1="1146.40" x2="248.30" y2="1237.20" stroke="#333" stroke-width="1.50" />
<polyline points="272.00,1162.00 276.90,1224.00 301.90,1224.00" stroke="#111" stroke-width="2.20" fill="none" stroke-linejoin="miter" />
<line x1="311.60" y1="1162.00" x2="309.20" y2="1213.00" stroke="#111" stroke-width="2.20" />
<line x1="267.10" y1="1162.00" x2="317.10" y2="1162.00" stroke="#111" stroke-width="2.50" />
<path d="M272,1160 L276,1155 L306,1155 L313,1159" stroke="#111" stroke-width="2.50" fill="none" />
<circle cx="308.00" cy="1222.60" r="6.00" stroke="#111" stroke-width="2.50" fill="#fff"/>
<rect x="306.50" y="1220.50" width="4.00" height="4.00" stroke="#111" stroke-width="1.00" fill="#111"/>
<line x1="288.50" y1="1179.50" x2="303.00" y2="1179.50" stroke="#111" stroke-width="3.00" />
<rect x="311.00" y="1167.00" width="7.00" height="9.00" stroke="#222" stroke-width="1.50" fill="none"/>
<circle cx="316.00" cy="1159.50" r="2.50" stroke="#111" stroke-width="1.00" fill="#111"/>
<rect x="253.80" y="1258.50" width="77.30" height="17.10" stroke="none" stroke-width="0.00" fill="#111"/>
<path d="M451.05,1162.39 A91.25,52.00 0 0 0 451.05,1249.61" stroke="#333" stroke-width="1.80" fill="none" />
<path d="M453.75,1250.57 A91.25,52.00 0 1 0 453.75,1161.43" stroke="#333" stroke-width="1.80" fill="none" stroke-dasharray="11 9"/>
<text transform="translate(435.03 1229.00) scale(0.6891 1)" font-size="74.07" font-weight="normal" fill="#111" stroke="#111" stroke-width="0.90" >R</text>
<text transform="translate(470.80 1229.00) scale(0.9556 1)" font-size="74.07" font-weight="normal" fill="#111" stroke="#111" stroke-width="0.90" >o</text>
<text transform="translate(504.52 1229.00) scale(0.6912 1)" font-size="74.07" font-weight="normal" fill="#111" stroke="#111" stroke-width="0.90" >H</text>
<text transform="translate(538.88 1229.00) scale(0.9322 1)" font-size="74.07" font-weight="normal" fill="#111" stroke="#111" stroke-width="0.90" >S</text>
</svg>
</body></html>
